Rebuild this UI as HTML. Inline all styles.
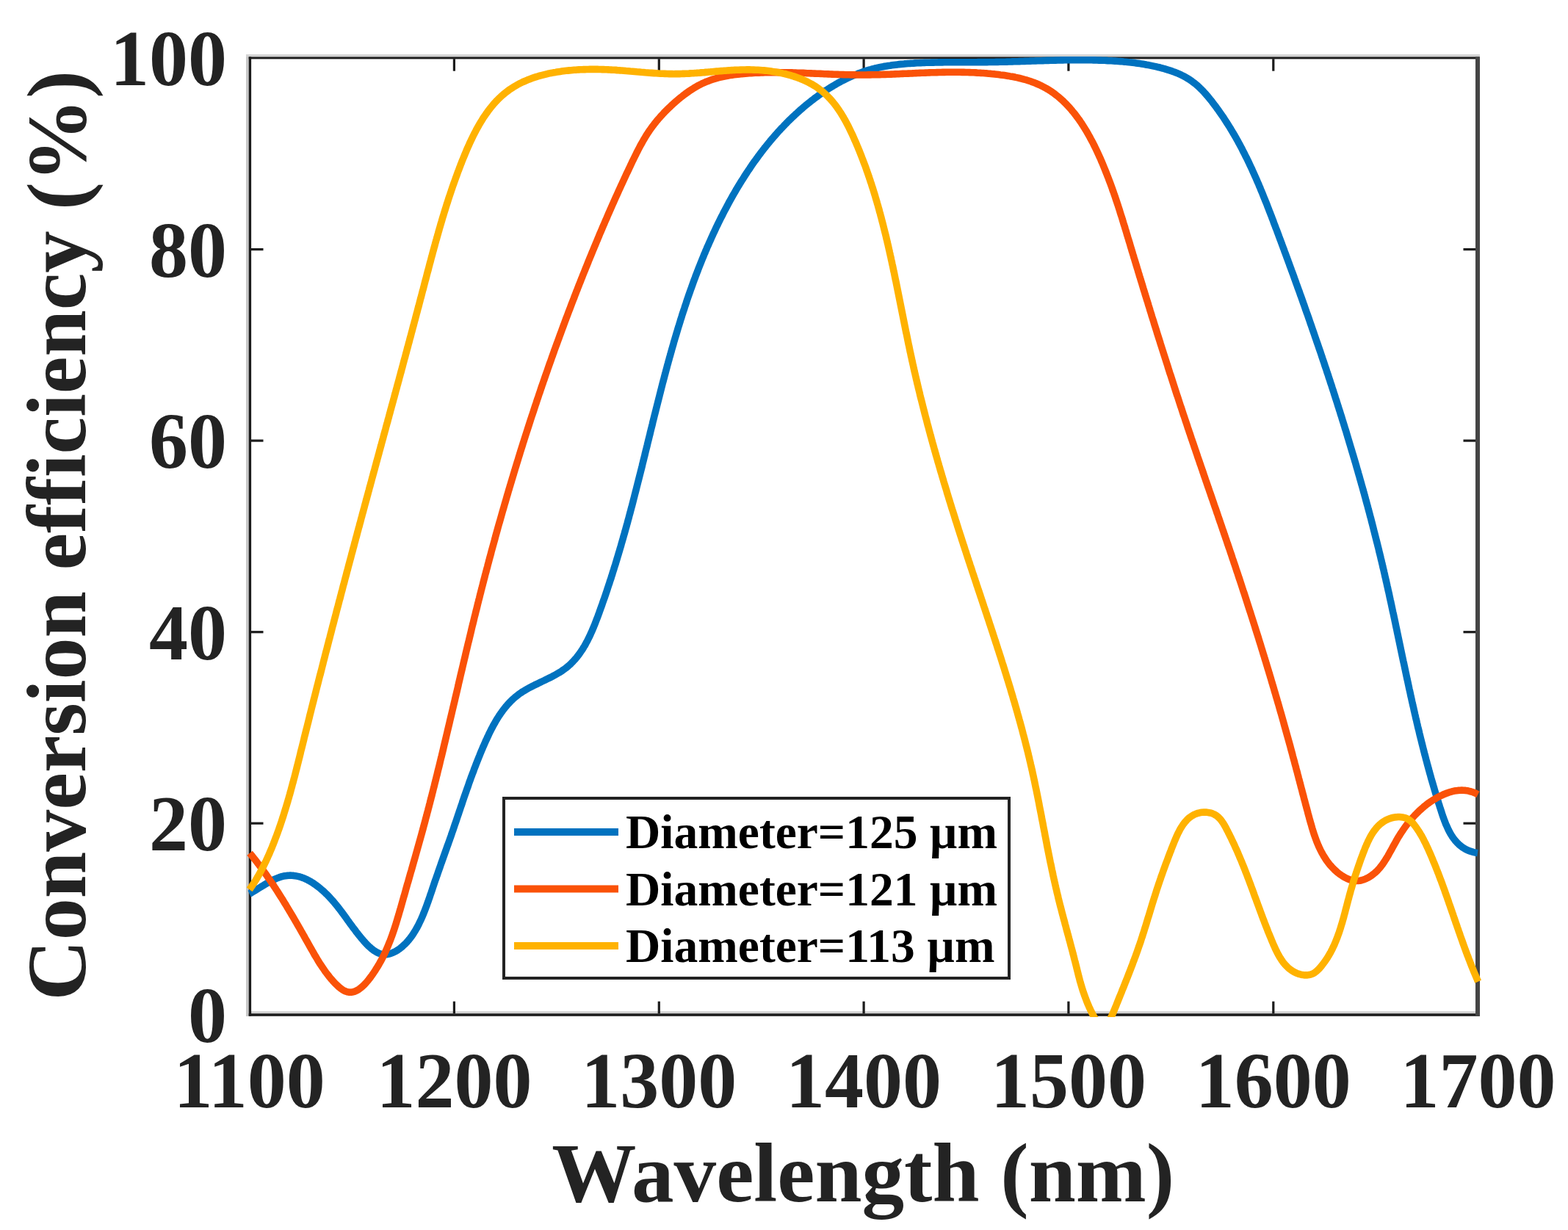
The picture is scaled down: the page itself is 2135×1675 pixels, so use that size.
<!DOCTYPE html><html><head><meta charset="utf-8"><title>Conversion efficiency</title><style>html,body{margin:0;padding:0;background:#fff;}svg{display:block;}text{font-family:"Liberation Serif","Times New Roman",serif;font-weight:bold;}</style></head><body>
<svg xmlns="http://www.w3.org/2000/svg" width="2135" height="1675" viewBox="0 0 2135 1675">
<rect width="2135" height="1675" fill="#fff"/>
<defs><clipPath id="c"><rect x="336" y="75" width="1681" height="1310"/></clipPath></defs>
<rect x="335" y="74" width="3.7" height="1310" fill="#c8c8c8"/>
<rect x="335" y="74" width="1680" height="3.2" fill="#d4d4d4"/>
<rect x="342" y="1377.2" width="1667" height="3" fill="#d0d0d0"/>
<rect x="338.7" y="77.4" width="3.4" height="1306.2" fill="#1c1c1c"/>
<rect x="338.7" y="77.4" width="1676" height="3" fill="#1c1c1c"/>
<rect x="338.7" y="1380.2" width="1676" height="3.6" fill="#1c1c1c"/>
<rect x="2009" y="77.4" width="6" height="1306.4" fill="#454545"/>
<rect x="616.8" y="1363.7" width="3.2" height="16.5" fill="#1c1c1c"/>
<rect x="616.8" y="80.2" width="3.2" height="16.5" fill="#1c1c1c"/>
<rect x="895.7" y="1363.7" width="3.2" height="16.5" fill="#1c1c1c"/>
<rect x="895.7" y="80.2" width="3.2" height="16.5" fill="#1c1c1c"/>
<rect x="1174.5" y="1363.7" width="3.2" height="16.5" fill="#1c1c1c"/>
<rect x="1174.5" y="80.2" width="3.2" height="16.5" fill="#1c1c1c"/>
<rect x="1453.3" y="1363.7" width="3.2" height="16.5" fill="#1c1c1c"/>
<rect x="1453.3" y="80.2" width="3.2" height="16.5" fill="#1c1c1c"/>
<rect x="1732.2" y="1363.7" width="3.2" height="16.5" fill="#1c1c1c"/>
<rect x="1732.2" y="80.2" width="3.2" height="16.5" fill="#1c1c1c"/>
<rect x="342" y="1119.6" width="16.5" height="3.2" fill="#1c1c1c"/>
<rect x="1992.5" y="1119.6" width="16.5" height="3.2" fill="#1c1c1c"/>
<rect x="342" y="859.1" width="16.5" height="3.2" fill="#1c1c1c"/>
<rect x="1992.5" y="859.1" width="16.5" height="3.2" fill="#1c1c1c"/>
<rect x="342" y="598.5" width="16.5" height="3.2" fill="#1c1c1c"/>
<rect x="1992.5" y="598.5" width="16.5" height="3.2" fill="#1c1c1c"/>
<rect x="342" y="338.0" width="16.5" height="3.2" fill="#1c1c1c"/>
<rect x="1992.5" y="338.0" width="16.5" height="3.2" fill="#1c1c1c"/>
<g clip-path="url(#c)" fill="none" stroke-width="9.6" stroke-linejoin="round" stroke-linecap="butt">
<path d="M339.6,1217.1 341.6,1216.1 343.6,1214.9 345.6,1213.7 347.7,1212.5 349.8,1211.2 352.0,1209.8 354.1,1208.5 356.3,1207.1 358.5,1205.8 360.8,1204.4 363.0,1203.1 365.3,1201.8 367.6,1200.5 369.9,1199.3 372.2,1198.2 374.5,1197.1 376.8,1196.1 379.1,1195.2 381.5,1194.4 383.8,1193.7 386.1,1193.1 388.4,1192.7 390.7,1192.4 393.0,1192.2 395.3,1192.1 397.6,1192.2 399.8,1192.4 402.1,1192.7 404.3,1193.1 406.6,1193.6 408.8,1194.2 411.0,1194.9 413.2,1195.7 415.3,1196.6 417.5,1197.6 419.6,1198.7 421.7,1199.8 423.8,1201.0 425.9,1202.3 427.9,1203.7 429.9,1205.1 431.9,1206.6 433.9,1208.1 435.8,1209.7 437.7,1211.3 439.6,1212.9 441.5,1214.6 443.3,1216.4 445.1,1218.1 446.9,1219.9 448.6,1221.7 450.3,1223.6 451.9,1225.4 453.6,1227.3 455.2,1229.1 456.7,1231.0 458.3,1232.9 459.8,1234.8 461.3,1236.7 462.8,1238.6 464.2,1240.5 465.7,1242.5 467.1,1244.4 468.6,1246.4 470.0,1248.3 471.4,1250.3 472.8,1252.3 474.3,1254.3 475.7,1256.3 477.2,1258.3 478.7,1260.3 480.1,1262.3 481.6,1264.3 483.2,1266.3 484.7,1268.4 486.3,1270.4 487.9,1272.5 489.5,1274.5 491.2,1276.6 492.9,1278.6 494.7,1280.7 496.5,1282.7 498.3,1284.7 500.1,1286.6 502.0,1288.5 503.9,1290.2 505.8,1291.9 507.8,1293.4 509.7,1294.8 511.7,1296.1 513.8,1297.2 515.8,1298.1 517.8,1298.9 519.9,1299.4 521.9,1299.7 524.0,1299.8 526.1,1299.7 528.1,1299.4 530.2,1299.0 532.2,1298.4 534.2,1297.6 536.2,1296.7 538.2,1295.7 540.2,1294.6 542.1,1293.4 544.0,1292.1 545.8,1290.6 547.6,1289.2 549.3,1287.6 551.0,1286.0 552.7,1284.4 554.2,1282.7 555.8,1280.9 557.3,1279.1 558.8,1277.2 560.2,1275.3 561.6,1273.4 562.9,1271.4 564.2,1269.3 565.5,1267.2 566.7,1265.1 567.9,1263.0 569.1,1260.8 570.2,1258.6 571.3,1256.3 572.4,1254.0 573.5,1251.7 574.5,1249.4 575.5,1247.1 576.5,1244.7 577.4,1242.3 578.4,1239.9 579.3,1237.5 580.2,1235.1 581.1,1232.7 582.0,1230.2 582.9,1227.8 583.7,1225.4 584.6,1222.9 585.4,1220.5 586.2,1218.0 587.1,1215.6 587.9,1213.2 588.7,1210.7 589.5,1208.3 590.3,1205.9 591.1,1203.5 591.9,1201.2 592.7,1198.8 593.6,1196.5 594.4,1194.1 595.2,1191.8 596.0,1189.5 596.8,1187.2 597.6,1184.9 598.4,1182.6 599.2,1180.3 600.0,1178.0 600.8,1175.7 601.6,1173.5 602.4,1171.2 603.2,1169.0 604.0,1166.7 604.8,1164.5 605.6,1162.2 606.4,1160.0 607.2,1157.7 608.0,1155.5 608.8,1153.2 609.6,1151.0 610.4,1148.8 611.2,1146.5 612.0,1144.3 612.8,1142.0 613.6,1139.8 614.4,1137.5 615.1,1135.3 615.9,1133.0 616.7,1130.8 617.5,1128.5 618.3,1126.2 619.0,1123.9 619.8,1121.6 620.6,1119.4 621.4,1117.1 622.1,1114.8 622.9,1112.5 623.7,1110.2 624.5,1107.9 625.2,1105.6 626.0,1103.3 626.8,1101.0 627.6,1098.6 628.4,1096.3 629.2,1094.0 629.9,1091.7 630.7,1089.4 631.5,1087.0 632.3,1084.7 633.1,1082.4 633.9,1080.1 634.7,1077.8 635.5,1075.4 636.4,1073.1 637.2,1070.8 638.0,1068.5 638.8,1066.1 639.6,1063.8 640.5,1061.5 641.3,1059.1 642.2,1056.8 643.0,1054.5 643.9,1052.2 644.8,1049.9 645.6,1047.5 646.5,1045.2 647.4,1042.9 648.3,1040.6 649.2,1038.3 650.1,1036.0 651.0,1033.7 651.9,1031.4 652.9,1029.1 653.8,1026.8 654.7,1024.5 655.7,1022.2 656.7,1019.9 657.6,1017.6 658.6,1015.4 659.6,1013.1 660.6,1010.8 661.6,1008.5 662.7,1006.3 663.7,1004.0 664.8,1001.8 665.8,999.6 666.9,997.3 668.0,995.1 669.1,992.9 670.3,990.7 671.4,988.6 672.6,986.4 673.8,984.3 675.0,982.2 676.2,980.1 677.5,978.0 678.8,976.0 680.1,973.9 681.5,971.9 682.9,970.0 684.3,968.0 685.7,966.1 687.2,964.2 688.7,962.4 690.2,960.6 691.8,958.8 693.4,957.1 695.1,955.3 696.7,953.7 698.5,952.0 700.2,950.5 702.0,948.9 703.9,947.4 705.8,945.9 707.7,944.5 709.7,943.2 711.7,941.8 713.8,940.6 715.9,939.3 718.0,938.1 720.2,936.9 722.4,935.7 724.6,934.6 726.8,933.5 729.0,932.4 731.3,931.3 733.5,930.2 735.8,929.1 738.1,928.0 740.3,927.0 742.6,925.9 744.8,924.8 747.1,923.7 749.3,922.6 751.5,921.5 753.7,920.3 755.9,919.1 758.0,917.9 760.1,916.7 762.2,915.5 764.2,914.2 766.2,912.8 768.2,911.4 770.1,910.0 771.9,908.6 773.8,907.0 775.5,905.5 777.2,903.9 778.9,902.2 780.5,900.5 782.1,898.8 783.7,897.0 785.2,895.2 786.7,893.3 788.1,891.5 789.5,889.5 790.8,887.6 792.2,885.6 793.5,883.6 794.7,881.5 796.0,879.5 797.2,877.4 798.3,875.2 799.5,873.1 800.6,870.9 801.7,868.7 802.8,866.5 803.8,864.3 804.8,862.1 805.8,859.8 806.8,857.5 807.8,855.2 808.7,852.9 809.7,850.6 810.6,848.3 811.5,845.9 812.4,843.6 813.3,841.3 814.2,838.9 815.0,836.6 815.9,834.2 816.7,831.9 817.6,829.5 818.4,827.2 819.3,824.8 820.1,822.5 820.9,820.1 821.7,817.8 822.6,815.4 823.4,813.1 824.2,810.7 825.0,808.4 825.8,806.0 826.6,803.7 827.3,801.3 828.1,799.0 828.9,796.6 829.7,794.3 830.4,791.9 831.2,789.6 832.0,787.3 832.7,784.9 833.5,782.6 834.2,780.2 834.9,777.9 835.7,775.5 836.4,773.2 837.1,770.9 837.9,768.5 838.6,766.2 839.3,763.8 840.0,761.5 840.7,759.1 841.4,756.8 842.1,754.5 842.8,752.1 843.5,749.8 844.2,747.4 844.9,745.1 845.6,742.8 846.2,740.4 846.9,738.1 847.6,735.7 848.3,733.4 848.9,731.0 849.6,728.7 850.3,726.4 850.9,724.0 851.6,721.7 852.2,719.3 852.9,717.0 853.5,714.6 854.2,712.3 854.8,710.0 855.4,707.6 856.1,705.3 856.7,702.9 857.3,700.6 858.0,698.2 858.6,695.9 859.2,693.5 859.8,691.2 860.5,688.8 861.1,686.5 861.7,684.1 862.3,681.8 862.9,679.4 863.5,677.1 864.1,674.7 864.7,672.4 865.3,670.0 865.9,667.7 866.5,665.3 867.1,662.9 867.7,660.6 868.3,658.2 868.9,655.9 869.5,653.5 870.1,651.1 870.7,648.8 871.3,646.4 871.9,644.1 872.5,641.7 873.1,639.3 873.7,637.0 874.3,634.6 874.8,632.2 875.4,629.9 876.0,627.5 876.6,625.1 877.2,622.7 877.8,620.4 878.3,618.0 878.9,615.6 879.5,613.2 880.1,610.9 880.7,608.5 881.3,606.1 881.8,603.8 882.4,601.4 883.0,599.0 883.6,596.6 884.2,594.2 884.8,591.9 885.3,589.5 885.9,587.1 886.5,584.7 887.1,582.4 887.7,580.0 888.3,577.6 888.8,575.2 889.4,572.8 890.0,570.5 890.6,568.1 891.2,565.7 891.8,563.3 892.4,561.0 893.0,558.6 893.6,556.2 894.2,553.8 894.8,551.4 895.4,549.1 896.0,546.7 896.6,544.3 897.2,541.9 897.8,539.6 898.4,537.2 899.0,534.8 899.6,532.4 900.2,530.1 900.8,527.7 901.4,525.3 902.0,522.9 902.6,520.6 903.3,518.2 903.9,515.8 904.5,513.5 905.1,511.1 905.8,508.7 906.4,506.3 907.0,504.0 907.7,501.6 908.3,499.2 908.9,496.9 909.6,494.5 910.2,492.1 910.9,489.8 911.5,487.4 912.2,485.1 912.9,482.7 913.5,480.3 914.2,478.0 914.8,475.6 915.5,473.3 916.2,470.9 916.9,468.6 917.5,466.2 918.2,463.9 918.9,461.5 919.6,459.2 920.3,456.8 921.0,454.5 921.7,452.1 922.4,449.8 923.1,447.4 923.8,445.1 924.6,442.7 925.3,440.4 926.0,438.1 926.7,435.7 927.5,433.4 928.2,431.1 928.9,428.7 929.7,426.4 930.4,424.1 931.2,421.8 932.0,419.4 932.7,417.1 933.5,414.8 934.3,412.5 935.0,410.2 935.8,407.8 936.6,405.5 937.4,403.2 938.2,400.9 939.0,398.6 939.8,396.3 940.6,394.0 941.5,391.7 942.3,389.4 943.1,387.1 943.9,384.8 944.8,382.5 945.6,380.2 946.5,377.9 947.3,375.6 948.2,373.4 949.1,371.1 950.0,368.8 950.8,366.5 951.7,364.2 952.6,362.0 953.5,359.7 954.4,357.4 955.3,355.2 956.2,352.9 957.2,350.6 958.1,348.4 959.0,346.1 960.0,343.9 960.9,341.6 961.9,339.4 962.8,337.1 963.8,334.9 964.8,332.7 965.8,330.4 966.8,328.2 967.8,326.0 968.8,323.7 969.8,321.5 970.8,319.3 971.8,317.1 972.9,314.9 973.9,312.6 974.9,310.4 976.0,308.2 977.1,306.0 978.1,303.8 979.2,301.6 980.3,299.4 981.4,297.2 982.5,295.0 983.6,292.9 984.7,290.7 985.8,288.5 987.0,286.3 988.1,284.2 989.3,282.0 990.4,279.8 991.6,277.7 992.7,275.5 993.9,273.4 995.1,271.2 996.3,269.1 997.5,266.9 998.7,264.8 1000.0,262.7 1001.2,260.6 1002.4,258.4 1003.7,256.3 1004.9,254.2 1006.2,252.1 1007.5,250.0 1008.8,247.9 1010.1,245.8 1011.4,243.8 1012.7,241.7 1014.0,239.6 1015.3,237.6 1016.7,235.5 1018.0,233.5 1019.4,231.4 1020.8,229.4 1022.1,227.4 1023.5,225.3 1024.9,223.3 1026.3,221.3 1027.7,219.3 1029.2,217.3 1030.6,215.4 1032.0,213.4 1033.5,211.4 1035.0,209.5 1036.4,207.5 1037.9,205.6 1039.4,203.6 1040.9,201.7 1042.5,199.8 1044.0,197.9 1045.5,196.0 1047.1,194.1 1048.6,192.2 1050.2,190.3 1051.8,188.5 1053.4,186.6 1055.0,184.8 1056.6,183.0 1058.2,181.1 1059.8,179.3 1061.5,177.5 1063.1,175.7 1064.8,174.0 1066.5,172.2 1068.2,170.4 1069.9,168.7 1071.6,166.9 1073.3,165.2 1075.0,163.5 1076.8,161.8 1078.5,160.1 1080.3,158.4 1082.1,156.8 1083.9,155.1 1085.7,153.5 1087.5,151.8 1089.3,150.2 1091.1,148.6 1093.0,147.0 1094.8,145.4 1096.7,143.8 1098.6,142.3 1100.5,140.7 1102.4,139.2 1104.3,137.7 1106.3,136.2 1108.2,134.7 1110.2,133.2 1112.1,131.8 1114.1,130.3 1116.1,128.9 1118.1,127.5 1120.1,126.1 1122.2,124.7 1124.2,123.3 1126.3,122.0 1128.3,120.7 1130.4,119.4 1132.5,118.1 1134.6,116.8 1136.7,115.6 1138.8,114.3 1140.9,113.1 1143.1,112.0 1145.2,110.8 1147.4,109.7 1149.6,108.6 1151.8,107.5 1154.0,106.4 1156.2,105.4 1158.4,104.4 1160.6,103.4 1162.8,102.5 1165.1,101.6 1167.4,100.7 1169.6,99.8 1171.9,99.0 1174.2,98.1 1176.5,97.4 1178.8,96.6 1181.1,95.9 1183.5,95.2 1185.8,94.6 1188.1,93.9 1190.5,93.3 1192.9,92.8 1195.2,92.2 1197.6,91.7 1200.0,91.2 1202.4,90.8 1204.8,90.3 1207.2,89.9 1209.6,89.5 1212.1,89.2 1214.5,88.8 1216.9,88.5 1219.4,88.2 1221.8,87.9 1224.2,87.6 1226.7,87.4 1229.1,87.2 1231.6,86.9 1234.0,86.7 1236.5,86.5 1239.0,86.4 1241.4,86.2 1243.9,86.1 1246.3,85.9 1248.8,85.8 1251.3,85.7 1253.7,85.6 1256.2,85.5 1258.6,85.4 1261.1,85.3 1263.6,85.3 1266.0,85.2 1268.5,85.1 1270.9,85.1 1273.4,85.0 1275.8,85.0 1278.3,84.9 1280.7,84.9 1283.1,84.9 1285.6,84.8 1288.0,84.8 1290.5,84.8 1292.9,84.8 1295.3,84.8 1297.8,84.7 1300.2,84.7 1302.7,84.7 1305.1,84.7 1307.5,84.7 1310.0,84.7 1312.4,84.7 1314.8,84.7 1317.3,84.7 1319.7,84.7 1322.1,84.7 1324.6,84.7 1327.0,84.7 1329.4,84.7 1331.9,84.6 1334.3,84.6 1336.7,84.6 1339.2,84.6 1341.6,84.6 1344.1,84.6 1346.5,84.5 1348.9,84.5 1351.4,84.5 1353.8,84.5 1356.3,84.4 1358.7,84.4 1361.2,84.3 1363.6,84.3 1366.1,84.2 1368.5,84.2 1371.0,84.1 1373.4,84.0 1375.9,84.0 1378.3,83.9 1380.8,83.8 1383.2,83.8 1385.7,83.7 1388.2,83.6 1390.6,83.5 1393.1,83.5 1395.5,83.4 1398.0,83.3 1400.5,83.2 1402.9,83.1 1405.4,83.0 1407.8,83.0 1410.3,82.9 1412.8,82.8 1415.2,82.7 1417.7,82.7 1420.2,82.6 1422.6,82.5 1425.1,82.4 1427.5,82.4 1430.0,82.3 1432.5,82.2 1434.9,82.2 1437.4,82.1 1439.9,82.0 1442.3,82.0 1444.8,81.9 1447.2,81.9 1449.7,81.8 1452.2,81.8 1454.6,81.8 1457.1,81.7 1459.5,81.7 1462.0,81.7 1464.4,81.7 1466.9,81.7 1469.3,81.7 1471.8,81.7 1474.2,81.7 1476.7,81.7 1479.1,81.7 1481.6,81.7 1484.0,81.8 1486.5,81.8 1488.9,81.9 1491.4,81.9 1493.8,82.0 1496.3,82.1 1498.7,82.1 1501.1,82.2 1503.6,82.3 1506.0,82.4 1508.4,82.6 1510.8,82.7 1513.3,82.8 1515.7,83.0 1518.1,83.1 1520.5,83.3 1523.0,83.5 1525.4,83.6 1527.8,83.8 1530.2,84.1 1532.6,84.3 1535.0,84.5 1537.4,84.8 1539.8,85.0 1542.2,85.3 1544.6,85.6 1547.0,85.9 1549.4,86.2 1551.8,86.6 1554.2,86.9 1556.6,87.3 1559.0,87.7 1561.4,88.2 1563.8,88.6 1566.2,89.1 1568.6,89.6 1571.0,90.1 1573.4,90.6 1575.8,91.2 1578.2,91.7 1580.6,92.4 1583.0,93.0 1585.4,93.7 1587.7,94.4 1590.1,95.1 1592.5,95.8 1594.8,96.6 1597.2,97.5 1599.5,98.3 1601.8,99.2 1604.1,100.2 1606.4,101.2 1608.6,102.2 1610.8,103.3 1613.0,104.4 1615.1,105.6 1617.2,106.9 1619.3,108.2 1621.3,109.5 1623.3,110.9 1625.2,112.4 1627.2,113.9 1629.0,115.4 1630.9,117.0 1632.7,118.7 1634.4,120.4 1636.2,122.1 1637.9,123.8 1639.5,125.6 1641.2,127.5 1642.8,129.3 1644.4,131.2 1646.0,133.1 1647.5,135.0 1649.1,136.9 1650.6,138.8 1652.1,140.8 1653.6,142.8 1655.0,144.7 1656.5,146.7 1657.9,148.7 1659.4,150.7 1660.8,152.7 1662.2,154.7 1663.6,156.7 1665.0,158.7 1666.3,160.7 1667.7,162.8 1669.0,164.8 1670.3,166.9 1671.6,168.9 1672.9,171.0 1674.2,173.0 1675.5,175.1 1676.7,177.2 1678.0,179.3 1679.2,181.4 1680.5,183.5 1681.7,185.6 1682.9,187.7 1684.1,189.8 1685.3,191.9 1686.4,194.1 1687.6,196.2 1688.7,198.3 1689.9,200.5 1691.0,202.6 1692.1,204.8 1693.2,207.0 1694.3,209.1 1695.4,211.3 1696.5,213.5 1697.6,215.6 1698.7,217.8 1699.7,220.0 1700.8,222.2 1701.8,224.4 1702.8,226.6 1703.9,228.8 1704.9,231.0 1705.9,233.3 1706.9,235.5 1707.9,237.7 1708.9,239.9 1709.9,242.2 1710.9,244.4 1711.8,246.6 1712.8,248.9 1713.8,251.1 1714.7,253.4 1715.7,255.6 1716.6,257.9 1717.5,260.1 1718.5,262.4 1719.4,264.6 1720.3,266.9 1721.2,269.2 1722.1,271.4 1723.0,273.7 1724.0,276.0 1724.9,278.2 1725.7,280.5 1726.6,282.8 1727.5,285.1 1728.4,287.4 1729.3,289.6 1730.2,291.9 1731.1,294.2 1731.9,296.5 1732.8,298.8 1733.7,301.1 1734.5,303.4 1735.4,305.7 1736.3,308.0 1737.1,310.3 1738.0,312.5 1738.9,314.8 1739.7,317.1 1740.6,319.4 1741.4,321.7 1742.3,324.0 1743.1,326.3 1744.0,328.6 1744.9,330.9 1745.7,333.2 1746.6,335.5 1747.4,337.8 1748.3,340.1 1749.1,342.4 1750.0,344.7 1750.8,347.0 1751.7,349.3 1752.5,351.6 1753.4,353.9 1754.2,356.2 1755.1,358.5 1755.9,360.8 1756.7,363.1 1757.6,365.4 1758.4,367.7 1759.3,370.0 1760.1,372.3 1761.0,374.6 1761.8,376.9 1762.6,379.2 1763.5,381.6 1764.3,383.9 1765.1,386.2 1766.0,388.5 1766.8,390.8 1767.6,393.1 1768.5,395.4 1769.3,397.7 1770.1,400.0 1770.9,402.3 1771.8,404.6 1772.6,406.9 1773.4,409.2 1774.2,411.6 1775.1,413.9 1775.9,416.2 1776.7,418.5 1777.5,420.8 1778.3,423.1 1779.1,425.4 1780.0,427.7 1780.8,430.1 1781.6,432.4 1782.4,434.7 1783.2,437.0 1784.0,439.3 1784.8,441.6 1785.6,443.9 1786.4,446.3 1787.2,448.6 1788.0,450.9 1788.8,453.2 1789.6,455.5 1790.4,457.8 1791.2,460.2 1792.0,462.5 1792.8,464.8 1793.6,467.1 1794.4,469.4 1795.2,471.8 1796.0,474.1 1796.8,476.4 1797.6,478.7 1798.4,481.0 1799.2,483.4 1799.9,485.7 1800.7,488.0 1801.5,490.3 1802.3,492.6 1803.1,495.0 1803.8,497.3 1804.6,499.6 1805.4,501.9 1806.2,504.3 1806.9,506.6 1807.7,508.9 1808.5,511.2 1809.2,513.6 1810.0,515.9 1810.8,518.2 1811.5,520.6 1812.3,522.9 1813.1,525.2 1813.8,527.5 1814.6,529.9 1815.3,532.2 1816.1,534.5 1816.8,536.9 1817.6,539.2 1818.3,541.5 1819.1,543.9 1819.8,546.2 1820.6,548.5 1821.3,550.9 1822.0,553.2 1822.8,555.5 1823.5,557.9 1824.3,560.2 1825.0,562.5 1825.7,564.9 1826.5,567.2 1827.2,569.5 1827.9,571.9 1828.6,574.2 1829.4,576.5 1830.1,578.9 1830.8,581.2 1831.5,583.6 1832.3,585.9 1833.0,588.2 1833.7,590.6 1834.4,592.9 1835.1,595.3 1835.8,597.6 1836.5,599.9 1837.2,602.3 1837.9,604.6 1838.6,607.0 1839.3,609.3 1840.0,611.7 1840.7,614.0 1841.4,616.3 1842.1,618.7 1842.8,621.0 1843.5,623.4 1844.2,625.7 1844.9,628.1 1845.6,630.4 1846.3,632.8 1846.9,635.1 1847.6,637.5 1848.3,639.8 1849.0,642.2 1849.6,644.5 1850.3,646.9 1851.0,649.2 1851.6,651.6 1852.3,653.9 1853.0,656.3 1853.6,658.6 1854.3,661.0 1855.0,663.3 1855.6,665.7 1856.3,668.0 1856.9,670.4 1857.6,672.7 1858.2,675.1 1858.9,677.4 1859.5,679.8 1860.1,682.2 1860.8,684.5 1861.4,686.9 1862.1,689.2 1862.7,691.6 1863.3,693.9 1864.0,696.3 1864.6,698.7 1865.2,701.0 1865.8,703.4 1866.5,705.7 1867.1,708.1 1867.7,710.5 1868.3,712.8 1868.9,715.2 1869.5,717.5 1870.1,719.9 1870.7,722.3 1871.3,724.6 1871.9,727.0 1872.5,729.4 1873.1,731.7 1873.7,734.1 1874.3,736.5 1874.9,738.8 1875.5,741.2 1876.1,743.6 1876.7,745.9 1877.3,748.3 1877.8,750.7 1878.4,753.0 1879.0,755.4 1879.6,757.8 1880.1,760.1 1880.7,762.5 1881.3,764.9 1881.8,767.2 1882.4,769.6 1882.9,772.0 1883.5,774.4 1884.1,776.7 1884.6,779.1 1885.2,781.5 1885.7,783.9 1886.2,786.2 1886.8,788.6 1887.3,791.0 1887.9,793.4 1888.4,795.7 1888.9,798.1 1889.5,800.5 1890.0,802.9 1890.5,805.2 1891.1,807.6 1891.6,810.0 1892.1,812.4 1892.6,814.8 1893.1,817.1 1893.7,819.5 1894.2,821.9 1894.7,824.3 1895.2,826.7 1895.7,829.0 1896.2,831.4 1896.7,833.8 1897.3,836.2 1897.8,838.6 1898.3,840.9 1898.8,843.3 1899.3,845.7 1899.8,848.1 1900.3,850.5 1900.8,852.9 1901.3,855.3 1901.8,857.6 1902.3,860.0 1902.8,862.4 1903.3,864.8 1903.8,867.2 1904.3,869.6 1904.8,872.0 1905.3,874.3 1905.8,876.7 1906.3,879.1 1906.8,881.5 1907.3,883.9 1907.8,886.3 1908.3,888.7 1908.8,891.1 1909.3,893.4 1909.8,895.8 1910.3,898.2 1910.8,900.6 1911.4,903.0 1911.9,905.4 1912.4,907.8 1912.9,910.2 1913.4,912.6 1913.9,914.9 1914.4,917.3 1914.9,919.7 1915.4,922.1 1915.9,924.5 1916.5,926.9 1917.0,929.3 1917.5,931.7 1918.0,934.1 1918.5,936.5 1919.0,938.8 1919.6,941.2 1920.1,943.6 1920.6,946.0 1921.1,948.4 1921.7,950.8 1922.2,953.2 1922.7,955.6 1923.3,958.0 1923.8,960.4 1924.4,962.8 1924.9,965.1 1925.4,967.5 1926.0,969.9 1926.5,972.3 1927.1,974.7 1927.6,977.1 1928.2,979.5 1928.8,981.9 1929.3,984.3 1929.9,986.7 1930.4,989.1 1931.0,991.5 1931.6,993.8 1932.2,996.2 1932.7,998.6 1933.3,1001.0 1933.9,1003.4 1934.5,1005.8 1935.1,1008.2 1935.7,1010.6 1936.3,1013.0 1936.9,1015.4 1937.5,1017.8 1938.1,1020.1 1938.7,1022.5 1939.3,1024.9 1939.9,1027.3 1940.6,1029.7 1941.2,1032.1 1941.8,1034.5 1942.5,1036.9 1943.1,1039.3 1943.7,1041.7 1944.4,1044.0 1945.0,1046.4 1945.7,1048.8 1946.3,1051.2 1947.0,1053.6 1947.7,1056.0 1948.3,1058.4 1949.0,1060.8 1949.7,1063.2 1950.4,1065.5 1951.1,1067.9 1951.8,1070.3 1952.5,1072.7 1953.2,1075.1 1953.9,1077.5 1954.6,1079.9 1955.3,1082.2 1956.1,1084.6 1956.8,1087.0 1957.5,1089.4 1958.3,1091.8 1959.0,1094.2 1959.8,1096.6 1960.5,1098.9 1961.3,1101.3 1962.1,1103.7 1962.8,1106.1 1963.6,1108.5 1964.4,1110.8 1965.2,1113.2 1966.1,1115.5 1966.9,1117.8 1967.8,1120.1 1968.7,1122.4 1969.7,1124.6 1970.7,1126.8 1971.7,1129.0 1972.7,1131.1 1973.8,1133.2 1975.0,1135.3 1976.2,1137.3 1977.4,1139.2 1978.7,1141.1 1980.1,1142.9 1981.5,1144.7 1983.0,1146.4 1984.5,1148.1 1986.1,1149.6 1987.8,1151.1 1989.6,1152.5 1991.4,1153.9 1993.4,1155.1 1995.4,1156.3 1997.5,1157.3 1999.6,1158.3 2001.9,1159.2 2004.3,1159.9 2006.8,1160.6 2009.3,1161.2 2012.0,1161.6" stroke="#0072BF"/>
<path d="M340.1,1161.8 341.7,1163.8 343.3,1165.7 344.9,1167.7 346.5,1169.8 348.1,1171.8 349.7,1173.8 351.2,1175.8 352.8,1177.9 354.3,1180.0 355.9,1182.0 357.4,1184.1 358.9,1186.2 360.4,1188.3 361.9,1190.4 363.4,1192.5 364.9,1194.7 366.4,1196.8 367.8,1198.9 369.3,1201.1 370.7,1203.3 372.2,1205.4 373.6,1207.6 375.1,1209.8 376.5,1212.0 377.9,1214.2 379.3,1216.4 380.7,1218.6 382.1,1220.8 383.5,1223.0 384.9,1225.2 386.2,1227.4 387.6,1229.7 389.0,1231.9 390.3,1234.1 391.7,1236.4 393.0,1238.6 394.4,1240.9 395.7,1243.1 397.0,1245.4 398.4,1247.6 399.7,1249.9 401.0,1252.1 402.3,1254.4 403.6,1256.6 404.9,1258.9 406.2,1261.2 407.5,1263.4 408.8,1265.7 410.1,1268.0 411.4,1270.2 412.7,1272.5 414.0,1274.7 415.2,1277.0 416.5,1279.3 417.8,1281.5 419.1,1283.8 420.3,1286.0 421.6,1288.3 422.8,1290.5 424.1,1292.7 425.4,1295.0 426.7,1297.2 427.9,1299.5 429.2,1301.7 430.6,1303.9 431.9,1306.1 433.2,1308.4 434.6,1310.6 436.0,1312.8 437.5,1315.0 439.0,1317.2 440.5,1319.4 442.0,1321.7 443.6,1323.9 445.3,1326.1 447.0,1328.3 448.7,1330.5 450.5,1332.7 452.4,1334.8 454.3,1337.0 456.3,1339.1 458.3,1341.1 460.3,1343.0 462.4,1344.8 464.4,1346.4 466.5,1347.9 468.6,1349.1 470.7,1350.0 472.8,1350.7 474.9,1351.1 477.0,1351.3 479.0,1351.1 481.1,1350.7 483.1,1350.1 485.1,1349.2 487.0,1348.2 489.0,1346.9 490.9,1345.5 492.8,1343.9 494.6,1342.2 496.5,1340.4 498.3,1338.5 500.0,1336.5 501.7,1334.4 503.4,1332.2 505.1,1330.0 506.7,1327.8 508.2,1325.6 509.7,1323.4 511.2,1321.1 512.6,1318.8 514.0,1316.6 515.4,1314.3 516.7,1312.0 518.0,1309.6 519.3,1307.3 520.5,1305.0 521.7,1302.6 522.9,1300.3 524.0,1297.9 525.1,1295.5 526.2,1293.1 527.2,1290.7 528.2,1288.3 529.2,1285.9 530.2,1283.4 531.2,1281.0 532.1,1278.6 533.0,1276.1 533.9,1273.7 534.8,1271.2 535.6,1268.7 536.5,1266.3 537.3,1263.8 538.1,1261.3 538.9,1258.8 539.7,1256.3 540.4,1253.8 541.2,1251.3 541.9,1248.8 542.7,1246.3 543.4,1243.8 544.1,1241.3 544.9,1238.8 545.6,1236.3 546.3,1233.7 547.0,1231.2 547.7,1228.7 548.4,1226.2 549.1,1223.7 549.8,1221.2 550.6,1218.7 551.3,1216.2 552.0,1213.7 552.7,1211.1 553.4,1208.6 554.1,1206.1 554.8,1203.6 555.6,1201.1 556.3,1198.6 557.0,1196.1 557.7,1193.6 558.4,1191.1 559.1,1188.6 559.9,1186.1 560.6,1183.6 561.3,1181.1 562.0,1178.6 562.7,1176.1 563.4,1173.6 564.2,1171.0 564.9,1168.5 565.6,1166.0 566.3,1163.5 567.0,1161.0 567.7,1158.5 568.4,1156.0 569.1,1153.5 569.8,1151.0 570.5,1148.5 571.2,1146.0 571.9,1143.5 572.6,1141.0 573.3,1138.5 574.0,1135.9 574.7,1133.4 575.4,1130.9 576.1,1128.4 576.7,1125.9 577.4,1123.4 578.1,1120.9 578.8,1118.3 579.4,1115.8 580.1,1113.3 580.8,1110.8 581.4,1108.3 582.1,1105.8 582.8,1103.2 583.4,1100.7 584.1,1098.2 584.7,1095.7 585.4,1093.2 586.0,1090.6 586.7,1088.1 587.3,1085.6 588.0,1083.1 588.6,1080.5 589.3,1078.0 589.9,1075.5 590.5,1073.0 591.2,1070.4 591.8,1067.9 592.4,1065.4 593.1,1062.8 593.7,1060.3 594.3,1057.8 595.0,1055.3 595.6,1052.7 596.2,1050.2 596.8,1047.7 597.5,1045.1 598.1,1042.6 598.7,1040.1 599.3,1037.5 599.9,1035.0 600.5,1032.5 601.2,1029.9 601.8,1027.4 602.4,1024.9 603.0,1022.3 603.6,1019.8 604.2,1017.2 604.8,1014.7 605.4,1012.2 606.0,1009.6 606.6,1007.1 607.2,1004.6 607.8,1002.0 608.4,999.5 609.0,997.0 609.6,994.4 610.2,991.9 610.8,989.3 611.4,986.8 612.0,984.3 612.6,981.7 613.2,979.2 613.8,976.6 614.4,974.1 615.0,971.6 615.6,969.0 616.2,966.5 616.8,963.9 617.4,961.4 618.0,958.9 618.6,956.3 619.2,953.8 619.8,951.2 620.4,948.7 621.0,946.1 621.6,943.6 622.2,941.1 622.8,938.5 623.4,936.0 624.0,933.4 624.5,930.9 625.1,928.4 625.7,925.8 626.3,923.3 626.9,920.7 627.5,918.2 628.1,915.7 628.7,913.1 629.3,910.6 629.9,908.0 630.5,905.5 631.1,902.9 631.7,900.4 632.3,897.9 632.9,895.3 633.5,892.8 634.1,890.2 634.7,887.7 635.3,885.2 635.9,882.6 636.5,880.1 637.1,877.5 637.7,875.0 638.4,872.5 639.0,869.9 639.6,867.4 640.2,864.9 640.8,862.3 641.4,859.8 642.0,857.2 642.6,854.7 643.2,852.2 643.9,849.6 644.5,847.1 645.1,844.6 645.7,842.0 646.3,839.5 647.0,837.0 647.6,834.4 648.2,831.9 648.9,829.4 649.5,826.8 650.1,824.3 650.7,821.8 651.4,819.2 652.0,816.7 652.7,814.2 653.3,811.6 653.9,809.1 654.6,806.6 655.2,804.0 655.9,801.5 656.5,799.0 657.2,796.5 657.8,793.9 658.5,791.4 659.1,788.9 659.8,786.4 660.4,783.8 661.1,781.3 661.8,778.8 662.4,776.3 663.1,773.7 663.8,771.2 664.4,768.7 665.1,766.2 665.8,763.6 666.4,761.1 667.1,758.6 667.8,756.1 668.5,753.6 669.1,751.0 669.8,748.5 670.5,746.0 671.2,743.5 671.9,741.0 672.6,738.5 673.3,735.9 674.0,733.4 674.6,730.9 675.3,728.4 676.0,725.9 676.7,723.4 677.4,720.9 678.1,718.3 678.8,715.8 679.5,713.3 680.3,710.8 681.0,708.3 681.7,705.8 682.4,703.3 683.1,700.8 683.8,698.3 684.5,695.8 685.3,693.2 686.0,690.7 686.7,688.2 687.4,685.7 688.2,683.2 688.9,680.7 689.6,678.2 690.3,675.7 691.1,673.2 691.8,670.7 692.5,668.2 693.3,665.7 694.0,663.2 694.8,660.7 695.5,658.2 696.3,655.7 697.0,653.2 697.8,650.7 698.5,648.2 699.3,645.7 700.0,643.2 700.8,640.7 701.5,638.2 702.3,635.7 703.1,633.2 703.8,630.7 704.6,628.2 705.4,625.8 706.1,623.3 706.9,620.8 707.7,618.3 708.4,615.8 709.2,613.3 710.0,610.8 710.8,608.3 711.6,605.8 712.3,603.3 713.1,600.9 713.9,598.4 714.7,595.9 715.5,593.4 716.3,590.9 717.1,588.4 717.9,586.0 718.7,583.5 719.5,581.0 720.3,578.5 721.1,576.0 721.9,573.5 722.7,571.1 723.5,568.6 724.3,566.1 725.2,563.6 726.0,561.2 726.8,558.7 727.6,556.2 728.4,553.7 729.2,551.3 730.1,548.8 730.9,546.3 731.7,543.8 732.6,541.4 733.4,538.9 734.2,536.4 735.1,534.0 735.9,531.5 736.7,529.0 737.6,526.5 738.4,524.1 739.3,521.6 740.1,519.1 741.0,516.7 741.8,514.2 742.7,511.8 743.5,509.3 744.4,506.8 745.3,504.4 746.1,501.9 747.0,499.4 747.8,497.0 748.7,494.5 749.6,492.1 750.5,489.6 751.3,487.1 752.2,484.7 753.1,482.2 754.0,479.8 754.8,477.3 755.7,474.9 756.6,472.4 757.5,470.0 758.4,467.5 759.3,465.1 760.2,462.6 761.1,460.2 762.0,457.7 762.9,455.3 763.8,452.8 764.7,450.4 765.6,447.9 766.5,445.5 767.4,443.0 768.3,440.6 769.2,438.1 770.1,435.7 771.0,433.3 772.0,430.8 772.9,428.4 773.8,425.9 774.7,423.5 775.7,421.1 776.6,418.6 777.5,416.2 778.4,413.8 779.4,411.3 780.3,408.9 781.3,406.5 782.2,404.0 783.1,401.6 784.1,399.2 785.0,396.7 786.0,394.3 786.9,391.9 787.9,389.4 788.8,387.0 789.8,384.6 790.8,382.2 791.7,379.7 792.7,377.3 793.6,374.9 794.6,372.5 795.6,370.0 796.6,367.6 797.5,365.2 798.5,362.8 799.5,360.4 800.5,357.9 801.4,355.5 802.4,353.1 803.4,350.7 804.4,348.3 805.4,345.9 806.4,343.4 807.4,341.0 808.4,338.6 809.4,336.2 810.4,333.8 811.4,331.4 812.4,329.0 813.4,326.6 814.4,324.2 815.4,321.8 816.4,319.3 817.4,316.9 818.5,314.5 819.5,312.1 820.5,309.7 821.5,307.3 822.6,304.9 823.6,302.5 824.6,300.1 825.7,297.8 826.7,295.4 827.7,293.0 828.8,290.6 829.8,288.2 830.9,285.8 831.9,283.4 833.0,281.0 834.0,278.6 835.1,276.3 836.1,273.9 837.2,271.5 838.3,269.1 839.3,266.8 840.4,264.4 841.5,262.0 842.6,259.6 843.6,257.3 844.7,254.9 845.8,252.5 846.9,250.2 848.0,247.8 849.1,245.5 850.2,243.1 851.2,240.8 852.3,238.4 853.4,236.0 854.6,233.7 855.7,231.4 856.8,229.0 857.9,226.7 859.0,224.3 860.1,222.0 861.2,219.6 862.4,217.3 863.5,215.0 864.6,212.7 865.8,210.3 866.9,208.0 868.1,205.7 869.3,203.4 870.5,201.1 871.7,198.8 872.9,196.6 874.2,194.3 875.5,192.0 876.8,189.8 878.1,187.6 879.4,185.4 880.8,183.2 882.2,181.0 883.7,178.8 885.1,176.7 886.7,174.5 888.2,172.4 889.8,170.3 891.4,168.2 893.0,166.2 894.7,164.1 896.4,162.1 898.2,160.1 899.9,158.1 901.7,156.2 903.5,154.3 905.3,152.3 907.2,150.4 909.1,148.6 911.0,146.7 912.9,144.9 914.8,143.1 916.8,141.3 918.7,139.6 920.7,137.8 922.7,136.1 924.7,134.4 926.7,132.8 928.8,131.2 930.8,129.6 932.9,128.0 935.0,126.5 937.1,125.0 939.2,123.5 941.4,122.1 943.6,120.7 945.7,119.4 947.9,118.1 950.2,116.8 952.4,115.6 954.7,114.5 957.0,113.3 959.3,112.3 961.7,111.3 964.1,110.4 966.5,109.5 968.9,108.6 971.3,107.8 973.8,107.1 976.3,106.4 978.8,105.7 981.3,105.1 983.9,104.5 986.4,104.0 989.0,103.5 991.6,103.0 994.1,102.6 996.7,102.2 999.4,101.8 1002.0,101.5 1004.6,101.2 1007.2,100.9 1009.8,100.6 1012.5,100.4 1015.1,100.2 1017.7,100.0 1020.4,99.8 1023.0,99.6 1025.6,99.4 1028.3,99.3 1030.9,99.2 1033.5,99.1 1036.1,99.0 1038.8,98.9 1041.4,98.8 1044.0,98.7 1046.6,98.7 1049.3,98.7 1051.9,98.6 1054.5,98.6 1057.1,98.6 1059.7,98.6 1062.4,98.7 1065.0,98.7 1067.6,98.7 1070.2,98.8 1072.8,98.8 1075.5,98.9 1078.1,98.9 1080.7,99.0 1083.3,99.1 1085.9,99.2 1088.5,99.3 1091.2,99.4 1093.8,99.4 1096.4,99.5 1099.0,99.7 1101.6,99.8 1104.2,99.9 1106.8,100.0 1109.4,100.1 1112.0,100.2 1114.7,100.3 1117.3,100.4 1119.9,100.5 1122.5,100.7 1125.1,100.8 1127.7,100.9 1130.3,101.0 1132.9,101.1 1135.5,101.2 1138.1,101.3 1140.7,101.4 1143.3,101.5 1145.9,101.5 1148.5,101.6 1151.1,101.7 1153.7,101.8 1156.3,101.8 1158.9,101.9 1161.5,101.9 1164.1,101.9 1166.7,102.0 1169.3,102.0 1171.9,102.0 1174.5,102.0 1177.1,102.0 1179.7,102.0 1182.3,101.9 1184.9,101.9 1187.5,101.8 1190.1,101.8 1192.7,101.7 1195.3,101.7 1197.9,101.6 1200.5,101.5 1203.1,101.4 1205.7,101.4 1208.3,101.3 1210.9,101.2 1213.5,101.1 1216.1,101.0 1218.7,100.9 1221.3,100.8 1223.8,100.7 1226.4,100.5 1229.0,100.4 1231.6,100.3 1234.2,100.2 1236.8,100.1 1239.4,100.0 1242.0,99.9 1244.6,99.7 1247.2,99.6 1249.8,99.5 1252.4,99.4 1255.0,99.3 1257.6,99.2 1260.2,99.1 1262.8,99.0 1265.4,98.9 1268.0,98.8 1270.6,98.8 1273.2,98.7 1275.8,98.6 1278.4,98.5 1281.0,98.5 1283.6,98.4 1286.2,98.4 1288.8,98.3 1291.5,98.3 1294.1,98.3 1296.7,98.3 1299.3,98.3 1301.9,98.3 1304.5,98.3 1307.1,98.3 1309.7,98.4 1312.3,98.4 1315.0,98.5 1317.6,98.5 1320.2,98.6 1322.8,98.7 1325.4,98.8 1328.1,98.9 1330.7,99.1 1333.3,99.2 1335.9,99.4 1338.6,99.5 1341.2,99.7 1343.8,99.9 1346.4,100.2 1349.1,100.4 1351.7,100.7 1354.3,100.9 1357.0,101.2 1359.6,101.5 1362.3,101.9 1364.9,102.2 1367.5,102.6 1370.1,103.0 1372.8,103.4 1375.4,103.9 1378.0,104.3 1380.6,104.8 1383.2,105.4 1385.7,105.9 1388.3,106.5 1390.8,107.1 1393.4,107.8 1395.9,108.5 1398.4,109.2 1400.8,110.0 1403.3,110.8 1405.7,111.7 1408.1,112.6 1410.5,113.5 1412.8,114.5 1415.2,115.5 1417.5,116.6 1419.7,117.7 1422.0,118.9 1424.2,120.1 1426.3,121.4 1428.5,122.7 1430.6,124.1 1432.7,125.5 1434.7,126.9 1436.7,128.4 1438.7,130.0 1440.7,131.5 1442.6,133.2 1444.5,134.8 1446.4,136.5 1448.3,138.3 1450.1,140.1 1451.9,141.9 1453.6,143.7 1455.4,145.6 1457.1,147.5 1458.8,149.5 1460.4,151.5 1462.1,153.5 1463.7,155.5 1465.3,157.6 1466.8,159.7 1468.4,161.8 1469.9,163.9 1471.4,166.1 1472.9,168.3 1474.3,170.5 1475.7,172.8 1477.1,175.0 1478.5,177.3 1479.9,179.6 1481.2,181.9 1482.6,184.3 1483.9,186.6 1485.1,189.0 1486.4,191.3 1487.7,193.7 1488.9,196.1 1490.1,198.5 1491.3,201.0 1492.5,203.4 1493.6,205.8 1494.8,208.3 1495.9,210.7 1497.0,213.2 1498.1,215.6 1499.2,218.1 1500.2,220.6 1501.3,223.0 1502.3,225.5 1503.3,228.0 1504.3,230.4 1505.3,232.9 1506.3,235.4 1507.3,237.8 1508.2,240.3 1509.2,242.8 1510.1,245.2 1511.0,247.7 1512.0,250.1 1512.9,252.6 1513.8,255.1 1514.6,257.5 1515.5,260.0 1516.4,262.4 1517.2,264.9 1518.1,267.3 1518.9,269.8 1519.7,272.3 1520.6,274.7 1521.4,277.2 1522.2,279.6 1523.0,282.1 1523.8,284.5 1524.6,287.0 1525.3,289.5 1526.1,291.9 1526.9,294.4 1527.7,296.8 1528.4,299.3 1529.2,301.8 1529.9,304.2 1530.7,306.7 1531.5,309.1 1532.2,311.6 1533.0,314.1 1533.7,316.5 1534.4,319.0 1535.2,321.5 1535.9,323.9 1536.7,326.4 1537.4,328.8 1538.2,331.3 1538.9,333.8 1539.6,336.3 1540.4,338.7 1541.1,341.2 1541.9,343.7 1542.6,346.1 1543.4,348.6 1544.1,351.1 1544.9,353.6 1545.6,356.0 1546.4,358.5 1547.1,361.0 1547.9,363.5 1548.6,365.9 1549.4,368.4 1550.1,370.9 1550.9,373.4 1551.6,375.9 1552.4,378.3 1553.1,380.8 1553.9,383.3 1554.7,385.8 1555.4,388.3 1556.2,390.8 1556.9,393.2 1557.7,395.7 1558.5,398.2 1559.2,400.7 1560.0,403.2 1560.8,405.7 1561.5,408.2 1562.3,410.6 1563.1,413.1 1563.8,415.6 1564.6,418.1 1565.4,420.6 1566.1,423.1 1566.9,425.6 1567.7,428.1 1568.4,430.6 1569.2,433.1 1570.0,435.5 1570.8,438.0 1571.5,440.5 1572.3,443.0 1573.1,445.5 1573.9,448.0 1574.7,450.5 1575.4,453.0 1576.2,455.5 1577.0,458.0 1577.8,460.5 1578.6,463.0 1579.4,465.4 1580.1,467.9 1580.9,470.4 1581.7,472.9 1582.5,475.4 1583.3,477.9 1584.1,480.4 1584.9,482.9 1585.7,485.4 1586.5,487.9 1587.3,490.4 1588.1,492.9 1588.9,495.4 1589.7,497.8 1590.4,500.3 1591.2,502.8 1592.0,505.3 1592.8,507.8 1593.7,510.3 1594.5,512.8 1595.3,515.3 1596.1,517.8 1596.9,520.3 1597.7,522.7 1598.5,525.2 1599.3,527.7 1600.1,530.2 1600.9,532.7 1601.7,535.2 1602.5,537.7 1603.4,540.1 1604.2,542.6 1605.0,545.1 1605.8,547.6 1606.6,550.1 1607.4,552.6 1608.3,555.0 1609.1,557.5 1609.9,560.0 1610.7,562.5 1611.5,565.0 1612.4,567.4 1613.2,569.9 1614.0,572.4 1614.9,574.9 1615.7,577.3 1616.5,579.8 1617.3,582.3 1618.2,584.8 1619.0,587.2 1619.8,589.7 1620.7,592.2 1621.5,594.7 1622.3,597.1 1623.2,599.6 1624.0,602.1 1624.9,604.5 1625.7,607.0 1626.5,609.5 1627.4,611.9 1628.2,614.4 1629.1,616.9 1629.9,619.3 1630.7,621.8 1631.6,624.3 1632.4,626.7 1633.3,629.2 1634.1,631.7 1635.0,634.1 1635.8,636.6 1636.7,639.1 1637.5,641.5 1638.4,644.0 1639.2,646.5 1640.0,648.9 1640.9,651.4 1641.7,653.8 1642.6,656.3 1643.4,658.8 1644.3,661.2 1645.1,663.7 1646.0,666.2 1646.8,668.6 1647.7,671.1 1648.5,673.5 1649.4,676.0 1650.2,678.5 1651.1,680.9 1651.9,683.4 1652.8,685.9 1653.6,688.3 1654.5,690.8 1655.3,693.2 1656.2,695.7 1657.0,698.2 1657.9,700.6 1658.7,703.1 1659.5,705.5 1660.4,708.0 1661.2,710.5 1662.1,712.9 1662.9,715.4 1663.8,717.9 1664.6,720.3 1665.5,722.8 1666.3,725.3 1667.1,727.7 1668.0,730.2 1668.8,732.6 1669.7,735.1 1670.5,737.6 1671.3,740.0 1672.2,742.5 1673.0,745.0 1673.9,747.4 1674.7,749.9 1675.5,752.4 1676.4,754.8 1677.2,757.3 1678.0,759.8 1678.9,762.3 1679.7,764.7 1680.5,767.2 1681.4,769.7 1682.2,772.1 1683.0,774.6 1683.8,777.1 1684.7,779.6 1685.5,782.0 1686.3,784.5 1687.1,787.0 1688.0,789.5 1688.8,791.9 1689.6,794.4 1690.4,796.9 1691.2,799.4 1692.0,801.9 1692.8,804.3 1693.7,806.8 1694.5,809.3 1695.3,811.8 1696.1,814.3 1696.9,816.8 1697.7,819.2 1698.5,821.7 1699.3,824.2 1700.1,826.7 1700.9,829.2 1701.7,831.7 1702.5,834.1 1703.3,836.6 1704.1,839.1 1704.9,841.6 1705.7,844.1 1706.5,846.6 1707.3,849.1 1708.1,851.6 1708.9,854.1 1709.6,856.6 1710.4,859.0 1711.2,861.5 1712.0,864.0 1712.8,866.5 1713.6,869.0 1714.3,871.5 1715.1,874.0 1715.9,876.5 1716.7,879.0 1717.4,881.5 1718.2,884.0 1719.0,886.5 1719.7,889.0 1720.5,891.5 1721.3,894.0 1722.0,896.5 1722.8,899.0 1723.6,901.5 1724.3,904.0 1725.1,906.5 1725.8,909.0 1726.6,911.5 1727.4,914.0 1728.1,916.5 1728.9,919.0 1729.6,921.5 1730.4,924.0 1731.1,926.5 1731.8,929.0 1732.6,931.5 1733.3,934.0 1734.1,936.5 1734.8,939.0 1735.5,941.5 1736.3,944.0 1737.0,946.5 1737.7,949.0 1738.5,951.5 1739.2,954.0 1739.9,956.5 1740.7,959.0 1741.4,961.5 1742.1,964.0 1742.8,966.5 1743.5,969.0 1744.3,971.5 1745.0,974.0 1745.7,976.5 1746.4,979.0 1747.1,981.5 1747.8,984.1 1748.5,986.6 1749.2,989.1 1749.9,991.6 1750.6,994.1 1751.3,996.6 1752.0,999.1 1752.7,1001.6 1753.4,1004.1 1754.1,1006.6 1754.8,1009.1 1755.5,1011.6 1756.2,1014.1 1756.9,1016.6 1757.5,1019.1 1758.2,1021.6 1758.9,1024.1 1759.6,1026.7 1760.2,1029.2 1760.9,1031.7 1761.6,1034.2 1762.3,1036.7 1762.9,1039.2 1763.6,1041.7 1764.3,1044.2 1764.9,1046.7 1765.6,1049.2 1766.3,1051.7 1766.9,1054.2 1767.6,1056.7 1768.2,1059.2 1768.9,1061.8 1769.6,1064.3 1770.2,1066.8 1770.9,1069.3 1771.5,1071.8 1772.2,1074.3 1772.9,1076.8 1773.5,1079.4 1774.2,1081.9 1774.9,1084.4 1775.5,1086.9 1776.2,1089.5 1776.9,1092.0 1777.5,1094.5 1778.2,1097.1 1778.9,1099.6 1779.6,1102.1 1780.3,1104.7 1780.9,1107.2 1781.6,1109.8 1782.3,1112.3 1783.0,1114.9 1783.7,1117.4 1784.4,1120.0 1785.2,1122.5 1785.9,1125.1 1786.6,1127.6 1787.4,1130.2 1788.2,1132.7 1789.0,1135.2 1789.8,1137.7 1790.7,1140.2 1791.6,1142.7 1792.5,1145.1 1793.5,1147.6 1794.5,1150.0 1795.5,1152.4 1796.6,1154.7 1797.7,1157.1 1798.9,1159.4 1800.1,1161.7 1801.4,1164.0 1802.7,1166.2 1804.1,1168.4 1805.5,1170.6 1807.0,1172.7 1808.5,1174.8 1810.1,1176.8 1811.8,1178.8 1813.6,1180.8 1815.4,1182.7 1817.3,1184.6 1819.3,1186.4 1821.3,1188.2 1823.4,1189.8 1825.6,1191.4 1827.8,1192.9 1830.0,1194.3 1832.3,1195.5 1834.7,1196.6 1837.0,1197.6 1839.4,1198.3 1841.8,1198.9 1844.3,1199.3 1846.7,1199.5 1849.1,1199.5 1851.6,1199.2 1854.0,1198.7 1856.4,1198.0 1858.7,1197.1 1861.0,1196.1 1863.3,1194.9 1865.5,1193.6 1867.6,1192.2 1869.6,1190.7 1871.5,1189.1 1873.4,1187.5 1875.2,1185.8 1876.9,1183.9 1878.5,1182.1 1880.1,1180.2 1881.6,1178.2 1883.1,1176.1 1884.5,1174.0 1885.9,1171.9 1887.3,1169.7 1888.6,1167.5 1890.0,1165.3 1891.2,1163.0 1892.5,1160.7 1893.8,1158.4 1895.1,1156.1 1896.3,1153.8 1897.6,1151.4 1898.9,1149.1 1900.2,1146.8 1901.5,1144.4 1902.8,1142.1 1904.2,1139.8 1905.6,1137.6 1907.0,1135.3 1908.5,1133.1 1910.0,1130.8 1911.5,1128.6 1913.0,1126.5 1914.6,1124.3 1916.2,1122.2 1917.9,1120.1 1919.6,1118.1 1921.3,1116.0 1923.0,1114.0 1924.7,1112.1 1926.5,1110.1 1928.3,1108.3 1930.2,1106.4 1932.1,1104.6 1934.0,1102.8 1935.9,1101.1 1937.9,1099.4 1939.8,1097.7 1941.9,1096.1 1943.9,1094.5 1946.0,1093.0 1948.1,1091.6 1950.2,1090.1 1952.4,1088.8 1954.6,1087.5 1956.8,1086.2 1959.0,1085.0 1961.3,1083.8 1963.6,1082.8 1965.9,1081.7 1968.3,1080.7 1970.6,1079.9 1973.0,1079.0 1975.4,1078.3 1977.9,1077.7 1980.3,1077.1 1982.8,1076.7 1985.3,1076.4 1987.8,1076.2 1990.3,1076.1 1992.8,1076.2 1995.4,1076.4 1997.9,1076.7 2000.4,1077.3 2003.0,1078.0 2005.5,1078.8 2008.1,1079.8 2010.6,1081.1 2012.3,1082.0" stroke="#FA5208"/>
<path d="M339.7,1211.4 341.4,1209.0 343.1,1206.5 344.8,1204.0 346.4,1201.5 348.0,1199.0 349.0,1197.3 350.0,1195.5 351.0,1193.8 352.0,1192.1 353.0,1190.3 354.0,1188.5 355.0,1186.8 355.9,1185.0 356.9,1183.2 357.8,1181.4 358.7,1179.6 359.6,1177.8 360.5,1175.9 361.4,1174.1 362.3,1172.3 363.1,1170.4 364.0,1168.6 364.8,1166.7 365.7,1164.8 366.5,1163.0 367.3,1161.1 368.1,1159.2 368.9,1157.3 369.7,1155.4 370.5,1153.6 371.2,1151.7 372.0,1149.8 372.7,1147.9 373.5,1145.9 374.2,1144.0 374.9,1142.1 375.7,1140.2 376.4,1138.3 377.1,1136.4 377.8,1134.5 378.5,1132.5 379.2,1130.6 379.9,1128.7 380.5,1126.8 381.2,1124.8 381.9,1122.9 382.5,1121.0 383.2,1119.0 383.8,1117.1 384.4,1115.2 385.1,1113.2 385.7,1111.3 386.3,1109.3 386.9,1107.4 387.5,1105.4 388.1,1103.5 388.7,1101.5 389.3,1099.6 389.9,1097.6 390.5,1095.7 391.1,1093.7 391.7,1091.8 392.2,1089.8 392.8,1087.9 393.4,1085.9 393.9,1083.9 394.5,1082.0 395.0,1080.0 395.6,1078.0 396.1,1076.1 396.6,1074.1 397.2,1072.1 397.7,1070.2 398.2,1068.2 398.8,1066.2 399.3,1064.3 399.8,1062.3 400.3,1060.3 400.9,1058.3 401.4,1056.4 401.9,1054.4 402.4,1052.4 402.9,1050.4 403.4,1048.5 403.9,1046.5 404.4,1044.5 404.9,1042.5 405.4,1040.6 405.9,1038.6 406.4,1036.6 406.9,1034.6 407.4,1032.6 407.9,1030.7 408.4,1028.7 408.9,1026.7 409.3,1024.7 409.8,1022.7 410.3,1020.8 410.8,1018.8 411.3,1016.8 411.8,1014.8 412.3,1012.8 412.8,1010.9 413.3,1008.9 413.8,1006.9 414.2,1004.9 414.7,1002.9 415.2,1001.0 415.7,999.0 416.2,997.0 416.7,995.0 417.2,993.0 417.7,991.1 418.2,989.1 418.7,987.1 419.2,985.1 419.7,983.2 420.2,981.2 420.7,979.2 421.2,977.2 421.6,975.2 422.1,973.3 422.6,971.3 423.1,969.3 423.6,967.3 424.1,965.4 424.6,963.4 425.1,961.4 425.6,959.4 426.1,957.5 426.6,955.5 427.1,953.5 427.6,951.5 428.1,949.6 428.6,947.6 429.1,945.6 429.6,943.6 430.1,941.7 430.6,939.7 431.1,937.7 431.6,935.7 432.1,933.8 432.6,931.8 433.1,929.8 433.6,927.8 434.1,925.9 434.6,923.9 435.1,921.9 435.6,920.0 436.2,918.0 436.7,916.0 437.2,914.0 437.7,912.1 438.2,910.1 438.7,908.1 439.2,906.1 439.7,904.2 440.2,902.2 440.7,900.2 441.2,898.3 441.7,896.3 442.2,894.3 442.7,892.3 443.2,890.4 443.7,888.4 444.3,886.4 444.8,884.4 445.3,882.5 445.8,880.5 446.3,878.5 446.8,876.6 447.3,874.6 447.8,872.6 448.3,870.6 448.9,868.7 449.4,866.7 449.9,864.7 450.4,862.8 450.9,860.8 451.4,858.8 451.9,856.8 452.4,854.9 452.9,852.9 453.5,850.9 454.0,849.0 454.5,847.0 455.0,845.0 455.5,843.1 456.0,841.1 456.6,839.1 457.1,837.1 457.6,835.2 458.1,833.2 458.6,831.2 459.1,829.3 459.6,827.3 460.2,825.3 460.7,823.4 461.2,821.4 461.7,819.4 462.2,817.4 462.8,815.5 463.3,813.5 463.8,811.5 464.3,809.6 464.8,807.6 465.3,805.6 465.9,803.7 466.4,801.7 466.9,799.7 467.4,797.7 467.9,795.8 468.5,793.8 469.0,791.8 469.5,789.9 470.0,787.9 470.6,785.9 471.1,784.0 471.6,782.0 472.1,780.0 472.6,778.0 473.2,776.1 473.7,774.1 474.2,772.1 474.7,770.2 475.3,768.2 475.8,766.2 476.3,764.3 476.8,762.3 477.4,760.3 477.9,758.3 478.4,756.4 478.9,754.4 479.5,752.4 480.0,750.5 480.5,748.5 481.0,746.5 481.6,744.6 482.1,742.6 482.6,740.6 483.1,738.6 483.7,736.7 484.2,734.7 484.7,732.7 485.3,730.8 485.8,728.8 486.3,726.8 486.8,724.8 487.4,722.9 487.9,720.9 488.4,718.9 489.0,717.0 489.5,715.0 490.0,713.0 490.6,711.1 491.1,709.1 491.6,707.1 492.1,705.1 492.7,703.2 493.2,701.2 493.7,699.2 494.3,697.3 494.8,695.3 495.3,693.3 495.9,691.3 496.4,689.4 496.9,687.4 497.5,685.4 498.0,683.5 498.5,681.5 499.1,679.5 499.6,677.5 500.1,675.6 500.7,673.6 501.2,671.6 501.7,669.6 502.3,667.7 502.8,665.7 503.3,663.7 503.9,661.8 504.4,659.8 504.9,657.8 505.5,655.8 506.0,653.9 506.5,651.9 507.1,649.9 507.6,648.0 508.1,646.0 508.7,644.0 509.2,642.0 509.8,640.1 510.3,638.1 510.8,636.1 511.4,634.1 511.9,632.2 512.4,630.2 513.0,628.2 513.5,626.3 514.0,624.3 514.6,622.3 515.1,620.3 515.7,618.4 516.2,616.4 516.7,614.4 517.3,612.4 517.8,610.5 518.3,608.5 518.9,606.5 519.4,604.6 519.9,602.6 520.5,600.6 521.0,598.6 521.6,596.7 522.1,594.7 522.6,592.7 523.2,590.7 523.7,588.8 524.2,586.8 524.8,584.8 525.3,582.9 525.8,580.9 526.4,578.9 526.9,576.9 527.5,575.0 528.0,573.0 528.5,571.0 529.1,569.1 529.6,567.1 530.1,565.1 530.7,563.1 531.2,561.2 531.7,559.2 532.3,557.2 532.8,555.3 533.3,553.3 533.9,551.3 534.4,549.3 535.0,547.4 535.5,545.4 536.0,543.4 536.6,541.5 537.1,539.5 537.6,537.5 538.2,535.5 538.7,533.6 539.2,531.6 539.8,529.6 540.3,527.7 540.8,525.7 541.4,523.7 541.9,521.8 542.4,519.8 543.0,517.8 543.5,515.8 544.0,513.9 544.6,511.9 545.1,509.9 545.6,508.0 546.2,506.0 546.7,504.0 547.2,502.1 547.8,500.1 548.3,498.1 548.8,496.1 549.3,494.2 549.9,492.2 550.4,490.2 550.9,488.3 551.5,486.3 552.0,484.3 552.5,482.4 553.1,480.4 553.6,478.4 554.1,476.5 554.6,474.5 555.2,472.5 555.7,470.6 556.2,468.6 556.8,466.6 557.3,464.7 557.8,462.7 558.3,460.7 558.9,458.8 559.4,456.8 559.9,454.8 560.4,452.9 561.0,450.9 561.5,448.9 562.0,447.0 562.5,445.0 563.1,443.0 563.6,441.1 564.1,439.1 564.6,437.1 565.2,435.2 565.7,433.2 566.2,431.3 566.7,429.3 567.2,427.3 567.8,425.4 568.3,423.4 568.8,421.4 569.3,419.5 569.9,417.5 570.4,415.5 570.9,413.6 571.4,411.6 571.9,409.7 572.4,407.7 573.0,405.7 573.5,403.8 574.0,401.8 574.5,399.9 575.0,397.9 575.5,395.9 576.1,394.0 576.6,392.0 577.1,390.1 577.6,388.1 578.1,386.1 578.6,384.2 579.1,382.2 579.7,380.3 580.2,378.3 580.7,376.3 581.2,374.4 581.7,372.4 582.2,370.5 582.8,368.5 583.3,366.5 583.8,364.6 584.3,362.6 584.8,360.7 585.3,358.7 585.9,356.8 586.4,354.8 586.9,352.9 587.4,350.9 588.0,348.9 588.5,347.0 589.0,345.0 589.5,343.1 590.1,341.1 590.6,339.2 591.1,337.2 591.7,335.3 592.2,333.3 592.7,331.3 593.3,329.4 593.8,327.4 594.4,325.5 594.9,323.5 595.5,321.6 596.0,319.6 596.6,317.7 597.1,315.7 597.7,313.8 598.2,311.8 598.8,309.9 599.4,307.9 599.9,306.0 600.5,304.0 601.1,302.1 601.7,300.1 602.2,298.2 602.8,296.2 603.4,294.3 604.0,292.3 604.6,290.4 605.2,288.4 605.8,286.5 606.4,284.5 607.0,282.6 607.6,280.6 608.2,278.7 608.9,276.7 609.5,274.8 610.1,272.8 610.7,270.9 611.4,268.9 612.0,267.0 612.7,265.0 613.3,263.1 614.0,261.2 614.6,259.2 615.3,257.3 615.9,255.3 616.6,253.4 617.3,251.4 618.0,249.5 618.7,247.5 619.4,245.6 620.1,243.7 620.8,241.7 621.5,239.8 622.2,237.8 622.9,235.9 623.6,233.9 624.4,232.0 625.1,230.1 625.8,228.1 626.6,226.2 627.3,224.2 628.1,222.3 628.8,220.3 629.6,218.4 630.4,216.5 631.2,214.5 632.0,212.6 632.8,210.6 633.6,208.7 634.4,206.8 635.2,204.9 636.0,202.9 636.9,201.0 637.7,199.1 638.6,197.2 639.4,195.3 640.3,193.4 641.2,191.5 642.1,189.6 643.0,187.7 643.9,185.9 644.8,184.0 645.8,182.2 646.7,180.3 647.7,178.5 648.6,176.7 649.6,174.9 650.6,173.1 651.6,171.3 652.6,169.5 653.7,167.7 654.7,166.0 655.8,164.3 656.9,162.5 657.9,160.8 659.1,159.1 660.2,157.5 661.3,155.8 662.5,154.2 664.2,151.7 666.0,149.3 667.8,147.0 669.7,144.7 671.6,142.4 673.5,140.2 675.5,138.0 677.6,135.9 679.6,133.9 681.7,131.8 683.9,129.9 686.1,128.0 688.4,126.1 690.7,124.4 693.0,122.6 695.4,121.0 697.8,119.4 700.3,117.8 702.9,116.3 705.4,114.9 708.0,113.5 710.7,112.2 713.4,111.0 716.1,109.8 718.9,108.6 720.8,107.9 722.6,107.2 724.5,106.5 726.4,105.8 728.4,105.2 730.3,104.6 732.3,104.0 734.2,103.4 736.2,102.8 738.2,102.3 740.2,101.8 742.2,101.3 744.2,100.8 746.2,100.3 748.2,99.9 750.3,99.5 752.3,99.1 754.4,98.7 756.5,98.4 758.5,98.0 760.6,97.7 762.7,97.4 764.8,97.1 766.9,96.8 769.0,96.5 771.1,96.3 773.2,96.1 775.3,95.9 777.5,95.7 779.6,95.5 781.7,95.3 783.8,95.2 786.0,95.0 788.1,94.9 790.2,94.8 792.4,94.7 794.5,94.6 796.6,94.6 798.7,94.5 800.9,94.5 803.0,94.4 805.1,94.4 807.2,94.4 809.3,94.4 811.5,94.4 813.6,94.4 815.7,94.5 817.8,94.5 819.9,94.6 821.9,94.6 824.0,94.7 826.1,94.8 828.2,94.9 830.2,95.0 832.3,95.1 834.3,95.2 836.4,95.3 838.4,95.4 840.4,95.6 842.4,95.7 844.4,95.9 846.4,96.0 849.4,96.2 852.4,96.5 855.3,96.7 858.3,97.0 861.3,97.2 864.2,97.5 867.1,97.8 870.1,98.0 873.0,98.3 875.9,98.5 878.8,98.8 881.8,99.0 884.7,99.2 887.6,99.4 890.6,99.6 893.5,99.8 896.4,100.0 899.4,100.2 902.4,100.3 905.3,100.4 908.3,100.5 911.3,100.6 913.3,100.6 915.3,100.6 917.4,100.7 919.4,100.6 921.4,100.6 923.5,100.6 925.5,100.6 927.6,100.5 929.7,100.4 931.7,100.4 933.8,100.3 935.9,100.2 938.0,100.1 940.1,99.9 942.2,99.8 944.3,99.7 946.4,99.5 948.5,99.4 950.6,99.2 952.7,99.1 954.8,98.9 956.9,98.7 959.0,98.6 961.1,98.4 963.3,98.2 965.4,98.0 967.5,97.9 969.6,97.7 971.7,97.5 973.7,97.3 975.8,97.1 977.9,97.0 980.0,96.8 982.1,96.6 984.1,96.5 986.2,96.3 988.2,96.2 990.3,96.0 992.3,95.9 994.3,95.8 996.3,95.6 998.3,95.5 1000.3,95.4 1002.3,95.3 1005.3,95.2 1008.3,95.1 1011.3,95.0 1014.3,95.0 1017.2,94.9 1020.2,94.9 1023.2,95.0 1026.1,95.1 1029.1,95.2 1032.1,95.3 1035.1,95.5 1038.0,95.7 1040.0,95.9 1042.0,96.1 1044.0,96.3 1046.0,96.5 1048.1,96.8 1050.1,97.1 1052.1,97.4 1054.1,97.7 1056.2,98.0 1058.2,98.4 1060.3,98.8 1062.3,99.2 1064.3,99.6 1066.4,100.1 1068.4,100.5 1070.5,101.0 1072.5,101.6 1074.5,102.1 1076.6,102.7 1078.6,103.3 1080.6,103.9 1082.6,104.6 1084.6,105.3 1086.5,106.0 1088.5,106.7 1090.4,107.5 1092.4,108.3 1094.3,109.1 1096.2,110.0 1098.1,110.8 1099.9,111.8 1101.7,112.7 1103.6,113.7 1105.4,114.6 1107.1,115.7 1108.9,116.7 1110.6,117.8 1112.2,118.9 1113.9,120.1 1115.5,121.3 1117.1,122.5 1119.5,124.3 1121.7,126.3 1123.9,128.3 1126.1,130.3 1128.2,132.4 1130.2,134.6 1132.2,136.8 1134.2,139.1 1136.0,141.4 1137.9,143.8 1139.1,145.4 1140.2,147.0 1141.4,148.7 1142.5,150.3 1143.6,152.0 1144.7,153.7 1145.8,155.4 1146.9,157.2 1147.9,158.9 1148.9,160.7 1149.9,162.4 1150.9,164.2 1151.9,166.0 1152.9,167.8 1153.8,169.6 1154.8,171.4 1155.7,173.3 1156.6,175.1 1157.5,177.0 1158.4,178.8 1159.3,180.7 1160.2,182.5 1161.0,184.4 1161.9,186.3 1162.7,188.2 1163.5,190.1 1164.4,192.0 1165.2,193.8 1166.0,195.7 1166.8,197.6 1167.6,199.5 1168.4,201.4 1169.2,203.3 1170.0,205.2 1170.7,207.1 1171.5,209.0 1172.2,210.9 1173.0,212.8 1173.7,214.7 1174.5,216.7 1175.2,218.6 1175.9,220.5 1176.6,222.4 1177.4,224.3 1178.1,226.2 1178.8,228.2 1179.5,230.1 1180.1,232.0 1180.8,233.9 1181.5,235.9 1182.2,237.8 1182.8,239.7 1183.5,241.7 1184.1,243.6 1184.8,245.5 1185.4,247.5 1186.1,249.4 1186.7,251.3 1187.3,253.3 1187.9,255.2 1188.6,257.2 1189.2,259.1 1189.8,261.1 1190.4,263.0 1191.0,265.0 1191.6,266.9 1192.1,268.9 1192.7,270.8 1193.3,272.8 1193.9,274.7 1194.4,276.7 1195.0,278.6 1195.6,280.6 1196.1,282.6 1196.7,284.5 1197.2,286.5 1197.7,288.5 1198.3,290.4 1198.8,292.4 1199.3,294.4 1199.9,296.3 1200.4,298.3 1200.9,300.3 1201.4,302.2 1201.9,304.2 1202.4,306.2 1202.9,308.2 1203.4,310.1 1203.9,312.1 1204.4,314.1 1204.9,316.1 1205.4,318.0 1205.9,320.0 1206.4,322.0 1206.8,324.0 1207.3,326.0 1207.8,327.9 1208.2,329.9 1208.7,331.9 1209.2,333.9 1209.6,335.9 1210.1,337.9 1210.5,339.9 1211.0,341.8 1211.4,343.8 1211.9,345.8 1212.3,347.8 1212.8,349.8 1213.2,351.8 1213.6,353.8 1214.1,355.8 1214.5,357.8 1214.9,359.8 1215.4,361.8 1215.8,363.8 1216.2,365.7 1216.6,367.7 1217.0,369.7 1217.5,371.7 1217.9,373.7 1218.3,375.7 1218.7,377.7 1219.1,379.7 1219.5,381.7 1220.0,383.7 1220.4,385.7 1220.8,387.7 1221.2,389.7 1221.6,391.7 1222.0,393.7 1222.4,395.7 1222.8,397.7 1223.2,399.7 1223.6,401.7 1224.0,403.7 1224.4,405.7 1224.8,407.7 1225.2,409.7 1225.6,411.7 1226.0,413.7 1226.4,415.7 1226.8,417.7 1227.2,419.7 1227.6,421.7 1228.0,423.7 1228.4,425.7 1228.8,427.7 1229.2,429.7 1229.6,431.7 1230.0,433.7 1230.4,435.7 1230.8,437.7 1231.2,439.7 1231.6,441.7 1232.0,443.7 1232.4,445.7 1232.8,447.7 1233.2,449.7 1233.6,451.7 1234.0,453.7 1234.5,455.7 1234.9,457.7 1235.3,459.7 1235.7,461.7 1236.1,463.7 1236.5,465.7 1236.9,467.7 1237.3,469.7 1237.8,471.7 1238.2,473.7 1238.6,475.7 1239.0,477.7 1239.4,479.7 1239.9,481.7 1240.3,483.7 1240.7,485.7 1241.2,487.7 1241.6,489.7 1242.0,491.7 1242.5,493.7 1242.9,495.6 1243.4,497.6 1243.8,499.6 1244.2,501.6 1244.7,503.6 1245.1,505.6 1245.6,507.6 1246.1,509.6 1246.5,511.6 1247.0,513.5 1247.4,515.5 1247.9,517.5 1248.4,519.5 1248.8,521.5 1249.3,523.5 1249.8,525.4 1250.2,527.4 1250.7,529.4 1251.2,531.4 1251.7,533.4 1252.2,535.3 1252.6,537.3 1253.1,539.3 1253.6,541.3 1254.1,543.2 1254.6,545.2 1255.1,547.2 1255.6,549.2 1256.1,551.2 1256.6,553.1 1257.1,555.1 1257.6,557.1 1258.1,559.0 1258.6,561.0 1259.1,563.0 1259.6,565.0 1260.1,566.9 1260.6,568.9 1261.2,570.9 1261.7,572.8 1262.2,574.8 1262.7,576.8 1263.2,578.8 1263.8,580.7 1264.3,582.7 1264.8,584.7 1265.3,586.6 1265.9,588.6 1266.4,590.6 1266.9,592.5 1267.5,594.5 1268.0,596.4 1268.5,598.4 1269.1,600.4 1269.6,602.3 1270.2,604.3 1270.7,606.3 1271.3,608.2 1271.8,610.2 1272.4,612.1 1272.9,614.1 1273.5,616.1 1274.0,618.0 1274.6,620.0 1275.1,621.9 1275.7,623.9 1276.3,625.9 1276.8,627.8 1277.4,629.8 1278.0,631.7 1278.5,633.7 1279.1,635.6 1279.7,637.6 1280.2,639.6 1280.8,641.5 1281.4,643.5 1282.0,645.4 1282.5,647.4 1283.1,649.3 1283.7,651.3 1284.3,653.2 1284.8,655.2 1285.4,657.1 1286.0,659.1 1286.6,661.0 1287.2,663.0 1287.8,664.9 1288.4,666.9 1289.0,668.8 1289.5,670.8 1290.1,672.7 1290.7,674.7 1291.3,676.6 1291.9,678.6 1292.5,680.5 1293.1,682.5 1293.7,684.4 1294.3,686.4 1294.9,688.3 1295.5,690.3 1296.1,692.2 1296.7,694.2 1297.4,696.1 1298.0,698.1 1298.6,700.0 1299.2,701.9 1299.8,703.9 1300.4,705.8 1301.0,707.8 1301.6,709.7 1302.3,711.7 1302.9,713.6 1303.5,715.6 1304.1,717.5 1304.7,719.4 1305.3,721.4 1306.0,723.3 1306.6,725.3 1307.2,727.2 1307.8,729.1 1308.5,731.1 1309.1,733.0 1309.7,735.0 1310.3,736.9 1311.0,738.8 1311.6,740.8 1312.2,742.7 1312.9,744.7 1313.5,746.6 1314.1,748.5 1314.8,750.5 1315.4,752.4 1316.0,754.4 1316.7,756.3 1317.3,758.2 1317.9,760.2 1318.6,762.1 1319.2,764.1 1319.9,766.0 1320.5,767.9 1321.1,769.9 1321.8,771.8 1322.4,773.7 1323.1,775.7 1323.7,777.6 1324.3,779.5 1325.0,781.5 1325.6,783.4 1326.3,785.4 1326.9,787.3 1327.6,789.2 1328.2,791.2 1328.9,793.1 1329.5,795.0 1330.1,797.0 1330.8,798.9 1331.4,800.8 1332.1,802.8 1332.7,804.7 1333.4,806.7 1334.0,808.6 1334.7,810.5 1335.3,812.5 1336.0,814.4 1336.6,816.3 1337.3,818.3 1337.9,820.2 1338.5,822.1 1339.2,824.1 1339.8,826.0 1340.5,828.0 1341.1,829.9 1341.8,831.8 1342.4,833.8 1343.1,835.7 1343.7,837.6 1344.3,839.6 1345.0,841.5 1345.6,843.4 1346.3,845.4 1346.9,847.3 1347.5,849.3 1348.2,851.2 1348.8,853.1 1349.5,855.1 1350.1,857.0 1350.7,858.9 1351.4,860.9 1352.0,862.8 1352.6,864.8 1353.3,866.7 1353.9,868.6 1354.5,870.6 1355.2,872.5 1355.8,874.5 1356.4,876.4 1357.1,878.3 1357.7,880.3 1358.3,882.2 1358.9,884.2 1359.6,886.1 1360.2,888.0 1360.8,890.0 1361.4,891.9 1362.1,893.9 1362.7,895.8 1363.3,897.7 1363.9,899.7 1364.5,901.6 1365.1,903.6 1365.8,905.5 1366.4,907.5 1367.0,909.4 1367.6,911.3 1368.2,913.3 1368.8,915.2 1369.4,917.2 1370.0,919.1 1370.6,921.1 1371.2,923.0 1371.8,925.0 1372.4,926.9 1373.0,928.9 1373.6,930.8 1374.2,932.8 1374.8,934.7 1375.4,936.7 1376.0,938.6 1376.5,940.6 1377.1,942.5 1377.7,944.5 1378.3,946.4 1378.9,948.4 1379.4,950.3 1380.0,952.3 1380.6,954.2 1381.2,956.2 1381.7,958.1 1382.3,960.1 1382.9,962.1 1383.4,964.0 1384.0,966.0 1384.5,967.9 1385.1,969.9 1385.6,971.8 1386.2,973.8 1386.7,975.8 1387.3,977.7 1387.8,979.7 1388.4,981.6 1388.9,983.6 1389.5,985.6 1390.0,987.5 1390.5,989.5 1391.1,991.5 1391.6,993.4 1392.1,995.4 1392.6,997.4 1393.1,999.3 1393.7,1001.3 1394.2,1003.3 1394.7,1005.2 1395.2,1007.2 1395.7,1009.2 1396.2,1011.1 1396.7,1013.1 1397.2,1015.1 1397.7,1017.0 1398.2,1019.0 1398.7,1021.0 1399.2,1023.0 1399.7,1024.9 1400.1,1026.9 1400.6,1028.9 1401.1,1030.9 1401.6,1032.9 1402.0,1034.8 1402.5,1036.8 1403.0,1038.8 1403.4,1040.8 1403.9,1042.8 1404.3,1044.7 1404.8,1046.7 1405.2,1048.7 1405.7,1050.7 1406.1,1052.7 1406.5,1054.7 1407.0,1056.7 1407.4,1058.6 1407.8,1060.6 1408.3,1062.6 1408.7,1064.6 1409.1,1066.6 1409.5,1068.6 1409.9,1070.6 1410.3,1072.6 1410.8,1074.6 1411.2,1076.6 1411.6,1078.6 1412.0,1080.6 1412.4,1082.6 1412.8,1084.6 1413.2,1086.6 1413.6,1088.6 1414.0,1090.6 1414.4,1092.6 1414.8,1094.6 1415.1,1096.6 1415.5,1098.6 1415.9,1100.6 1416.3,1102.6 1416.7,1104.6 1417.1,1106.6 1417.5,1108.6 1417.9,1110.6 1418.2,1112.6 1418.6,1114.6 1419.0,1116.6 1419.4,1118.6 1419.8,1120.6 1420.2,1122.6 1420.5,1124.6 1420.9,1126.6 1421.3,1128.6 1421.7,1130.6 1422.1,1132.6 1422.5,1134.6 1422.8,1136.6 1423.2,1138.6 1423.6,1140.6 1424.0,1142.7 1424.4,1144.7 1424.8,1146.7 1425.2,1148.7 1425.5,1150.7 1425.9,1152.7 1426.3,1154.7 1426.7,1156.7 1427.1,1158.7 1427.5,1160.7 1427.9,1162.7 1428.3,1164.7 1428.7,1166.7 1429.1,1168.7 1429.5,1170.7 1429.9,1172.8 1430.3,1174.8 1430.8,1176.8 1431.2,1178.8 1431.6,1180.8 1432.0,1182.8 1432.4,1184.8 1432.9,1186.8 1433.3,1188.8 1433.7,1190.8 1434.1,1192.8 1434.6,1194.8 1435.0,1196.8 1435.5,1198.8 1435.9,1200.8 1436.4,1202.8 1436.8,1204.8 1437.3,1206.8 1437.7,1208.8 1438.2,1210.8 1438.7,1212.8 1439.1,1214.8 1439.6,1216.8 1440.1,1218.8 1440.6,1220.8 1441.0,1222.8 1441.5,1224.8 1442.0,1226.8 1442.5,1228.8 1443.0,1230.8 1443.5,1232.8 1444.0,1234.8 1444.6,1236.8 1445.1,1238.8 1445.6,1240.8 1446.1,1242.8 1446.6,1244.8 1447.2,1246.8 1447.7,1248.8 1448.2,1250.7 1448.7,1252.7 1449.3,1254.7 1449.8,1256.7 1450.3,1258.7 1450.9,1260.6 1451.4,1262.6 1451.9,1264.6 1452.4,1266.5 1453.0,1268.5 1453.5,1270.5 1454.0,1272.4 1454.6,1274.4 1455.1,1276.3 1455.6,1278.3 1456.1,1280.2 1456.7,1282.2 1457.2,1284.1 1457.7,1286.1 1458.2,1288.0 1458.7,1289.9 1459.5,1292.8 1460.3,1295.7 1461.0,1298.6 1461.8,1301.5 1462.5,1304.3 1463.2,1307.2 1464.0,1310.0 1464.7,1312.9 1465.4,1315.7 1466.1,1318.5 1466.8,1321.4 1467.5,1324.2 1468.2,1327.0 1468.9,1329.8 1469.7,1332.7 1470.4,1335.6 1471.3,1338.5 1471.8,1340.4 1472.4,1342.3 1473.0,1344.3 1473.6,1346.3 1474.2,1348.3 1474.9,1350.3 1475.6,1352.3 1476.3,1354.3 1477.0,1356.4 1477.8,1358.5 1478.6,1360.6 1479.4,1362.7 1480.2,1364.9 1481.1,1367.0 1482.1,1369.2 1483.0,1371.4 1484.0,1373.6 1485.0,1375.7 1486.0,1377.8 1487.1,1379.9 1488.1,1381.9 1489.2,1383.9 1490.3,1385.7 1491.4,1387.5 1492.5,1389.2 1494.1,1391.5 1495.8,1393.6 1497.5,1395.3 1499.1,1396.6 1501.3,1397.7 1503.4,1397.8 1505.4,1396.7 1506.9,1395.3 1508.4,1393.5 1509.8,1391.3 1511.2,1388.7 1512.1,1386.9 1513.0,1385.0 1513.9,1383.1 1514.8,1381.1 1515.7,1379.1 1516.5,1377.1 1517.4,1375.0 1518.2,1373.0 1519.1,1371.0 1519.9,1369.0 1520.7,1366.9 1521.5,1364.9 1522.3,1362.9 1523.1,1360.9 1523.9,1358.9 1524.7,1356.9 1525.5,1355.0 1526.3,1353.0 1527.1,1351.1 1527.8,1349.1 1528.6,1347.2 1529.4,1345.3 1530.2,1343.4 1530.9,1341.5 1531.7,1339.6 1532.4,1337.7 1533.2,1335.8 1533.9,1333.9 1534.7,1332.0 1535.4,1330.2 1536.1,1328.3 1536.9,1326.4 1537.6,1324.6 1538.7,1321.8 1539.8,1319.0 1540.8,1316.2 1541.9,1313.4 1542.9,1310.6 1544.0,1307.8 1545.0,1305.0 1546.1,1302.2 1547.1,1299.4 1548.1,1296.6 1548.8,1294.7 1549.4,1292.8 1550.1,1290.9 1550.7,1289.0 1551.4,1287.1 1552.1,1285.2 1552.7,1283.3 1553.4,1281.3 1554.0,1279.4 1554.6,1277.4 1555.3,1275.5 1555.9,1273.5 1556.5,1271.5 1557.2,1269.6 1557.8,1267.6 1558.4,1265.6 1559.0,1263.6 1559.7,1261.6 1560.3,1259.6 1560.9,1257.7 1561.5,1255.7 1562.1,1253.7 1562.7,1251.7 1563.3,1249.7 1564.0,1247.7 1564.6,1245.7 1565.2,1243.7 1565.8,1241.7 1566.4,1239.7 1567.0,1237.7 1567.6,1235.7 1568.2,1233.7 1568.8,1231.7 1569.4,1229.7 1570.0,1227.8 1570.6,1225.8 1571.2,1223.9 1571.9,1221.9 1572.5,1220.0 1573.1,1218.0 1573.7,1216.1 1574.3,1214.2 1574.9,1212.3 1575.5,1210.4 1576.5,1207.5 1577.4,1204.7 1578.4,1201.9 1579.3,1199.1 1580.3,1196.3 1581.2,1193.5 1582.2,1190.8 1583.2,1188.0 1584.2,1185.2 1585.2,1182.4 1586.2,1179.6 1587.2,1176.8 1588.3,1174.0 1589.0,1172.2 1589.7,1170.3 1590.4,1168.4 1591.1,1166.5 1591.8,1164.6 1592.6,1162.6 1593.3,1160.7 1594.1,1158.8 1594.8,1156.8 1595.6,1154.8 1596.4,1152.8 1597.2,1150.8 1598.0,1148.8 1598.8,1146.8 1599.6,1144.8 1600.5,1142.8 1601.3,1140.8 1602.2,1138.8 1603.1,1136.8 1604.0,1134.8 1605.0,1132.9 1606.0,1131.0 1607.0,1129.1 1608.1,1127.3 1609.2,1125.5 1610.3,1123.8 1611.5,1122.1 1612.7,1120.5 1614.0,1118.9 1616.0,1116.7 1618.1,1114.6 1620.4,1112.8 1622.8,1111.1 1625.3,1109.7 1627.9,1108.5 1630.6,1107.5 1633.5,1106.8 1636.3,1106.3 1639.2,1106.1 1642.1,1106.1 1644.9,1106.4 1647.7,1106.9 1650.4,1107.7 1653.0,1108.8 1655.5,1110.2 1657.8,1111.9 1660.0,1113.9 1662.0,1116.1 1663.2,1117.7 1664.4,1119.3 1665.6,1121.1 1666.7,1122.9 1667.7,1124.7 1668.8,1126.6 1669.8,1128.5 1670.8,1130.4 1671.8,1132.3 1672.7,1134.2 1673.7,1136.1 1674.6,1138.0 1675.6,1139.9 1676.5,1141.8 1677.4,1143.7 1678.3,1145.6 1679.2,1147.5 1680.1,1149.4 1681.0,1151.3 1681.8,1153.2 1682.7,1155.1 1683.5,1156.9 1684.4,1158.8 1685.2,1160.7 1686.0,1162.6 1686.8,1164.5 1687.6,1166.4 1688.4,1168.3 1689.2,1170.1 1690.0,1172.0 1690.8,1173.9 1691.5,1175.8 1692.3,1177.7 1693.1,1179.6 1693.8,1181.4 1694.6,1183.3 1695.3,1185.2 1696.0,1187.1 1696.8,1189.0 1697.5,1190.8 1698.2,1192.7 1698.9,1194.6 1699.7,1196.5 1700.4,1198.4 1701.1,1200.2 1701.8,1202.1 1702.5,1204.0 1703.2,1205.9 1703.9,1207.8 1704.6,1209.7 1705.3,1211.5 1706.0,1213.4 1706.7,1215.3 1707.3,1217.2 1708.0,1219.1 1708.7,1221.0 1709.4,1222.8 1710.1,1224.7 1710.8,1226.6 1711.5,1228.5 1712.2,1230.4 1712.9,1232.3 1713.6,1234.2 1714.3,1236.1 1715.0,1238.0 1715.7,1239.9 1716.4,1241.8 1717.1,1243.7 1717.8,1245.6 1718.5,1247.5 1719.2,1249.4 1719.9,1251.3 1720.7,1253.2 1721.4,1255.1 1722.1,1257.0 1722.9,1259.0 1723.6,1260.9 1724.4,1262.8 1725.1,1264.7 1725.9,1266.6 1726.6,1268.6 1727.4,1270.5 1728.2,1272.4 1729.0,1274.3 1729.8,1276.3 1730.6,1278.2 1731.4,1280.2 1732.2,1282.1 1733.0,1284.0 1733.8,1286.0 1734.7,1287.9 1735.6,1289.9 1736.4,1291.8 1737.3,1293.7 1738.3,1295.6 1739.2,1297.5 1740.2,1299.3 1741.2,1301.1 1742.2,1302.9 1743.3,1304.7 1744.4,1306.4 1745.5,1308.1 1746.7,1309.8 1747.9,1311.4 1749.2,1312.9 1751.2,1315.1 1753.3,1317.2 1755.5,1319.2 1757.9,1321.0 1760.4,1322.6 1762.1,1323.6 1763.9,1324.5 1765.8,1325.3 1767.7,1326.1 1769.6,1326.7 1771.6,1327.2 1773.6,1327.6 1776.5,1327.9 1779.5,1327.9 1782.4,1327.6 1785.2,1326.9 1787.8,1325.8 1790.4,1324.3 1792.7,1322.5 1794.2,1321.1 1795.7,1319.6 1797.1,1318.1 1798.5,1316.5 1799.8,1314.9 1801.1,1313.2 1802.3,1311.6 1803.5,1309.9 1804.7,1308.2 1805.9,1306.5 1807.0,1304.8 1808.1,1303.1 1809.2,1301.3 1810.2,1299.5 1811.2,1297.8 1812.2,1296.0 1813.1,1294.1 1814.1,1292.3 1814.9,1290.5 1815.8,1288.6 1816.7,1286.8 1817.5,1284.9 1818.3,1283.0 1819.1,1281.1 1819.8,1279.2 1820.6,1277.3 1821.3,1275.4 1822.0,1273.4 1822.7,1271.5 1823.4,1269.6 1824.0,1267.6 1824.7,1265.6 1825.3,1263.7 1825.9,1261.7 1826.5,1259.7 1827.1,1257.8 1827.7,1255.8 1828.2,1253.8 1828.8,1251.8 1829.4,1249.8 1829.9,1247.8 1830.4,1245.9 1831.0,1243.9 1831.5,1241.9 1832.0,1239.9 1832.5,1237.9 1833.1,1235.9 1833.6,1233.9 1834.1,1231.9 1834.6,1230.0 1835.1,1228.0 1835.6,1226.0 1836.2,1224.1 1836.7,1222.1 1837.2,1220.1 1837.7,1218.2 1838.3,1216.3 1838.8,1214.3 1839.3,1212.4 1839.9,1210.5 1840.5,1208.5 1841.3,1205.7 1842.2,1202.8 1843.0,1199.9 1843.9,1197.1 1844.8,1194.2 1845.4,1192.3 1846.0,1190.4 1846.7,1188.5 1847.3,1186.6 1847.9,1184.7 1848.6,1182.8 1849.2,1180.8 1849.9,1178.9 1850.6,1177.0 1851.2,1175.1 1851.9,1173.1 1852.6,1171.2 1853.3,1169.2 1854.0,1167.3 1854.8,1165.3 1855.5,1163.4 1856.2,1161.4 1857.0,1159.4 1857.8,1157.5 1858.5,1155.5 1859.3,1153.5 1860.2,1151.6 1861.0,1149.6 1861.9,1147.7 1862.7,1145.8 1863.7,1143.9 1864.6,1142.0 1865.6,1140.2 1866.6,1138.3 1867.6,1136.6 1868.7,1134.8 1869.8,1133.1 1871.0,1131.5 1872.2,1129.9 1874.1,1127.5 1876.0,1125.4 1878.1,1123.3 1880.4,1121.4 1882.7,1119.6 1885.2,1118.0 1887.8,1116.6 1889.6,1115.7 1891.5,1115.0 1893.4,1114.3 1895.4,1113.7 1897.4,1113.3 1899.5,1112.9 1901.5,1112.7 1903.6,1112.5 1905.6,1112.5 1907.7,1112.7 1909.6,1112.9 1912.5,1113.6 1915.3,1114.6 1917.9,1116.0 1920.3,1117.7 1921.8,1119.0 1923.3,1120.5 1924.6,1122.0 1925.9,1123.6 1927.2,1125.3 1928.4,1127.0 1929.6,1128.7 1930.7,1130.4 1931.9,1132.1 1933.0,1133.9 1934.0,1135.7 1935.1,1137.4 1936.1,1139.2 1937.1,1141.0 1938.1,1142.8 1939.0,1144.7 1939.9,1146.5 1940.9,1148.3 1941.8,1150.2 1942.6,1152.0 1943.5,1153.9 1944.4,1155.8 1945.2,1157.6 1946.0,1159.5 1946.9,1161.4 1947.7,1163.2 1948.5,1165.1 1949.3,1167.0 1950.1,1168.9 1950.9,1170.8 1951.6,1172.7 1952.4,1174.5 1953.2,1176.4 1954.0,1178.3 1954.7,1180.2 1955.5,1182.1 1956.2,1184.0 1957.0,1185.9 1957.7,1187.8 1958.5,1189.7 1959.2,1191.6 1959.9,1193.5 1960.6,1195.4 1961.3,1197.3 1962.1,1199.2 1962.8,1201.1 1963.5,1203.0 1964.2,1205.0 1964.9,1206.9 1965.6,1208.8 1966.3,1210.7 1967.0,1212.6 1967.6,1214.5 1968.3,1216.4 1969.0,1218.4 1969.7,1220.3 1970.4,1222.2 1971.0,1224.1 1971.7,1226.0 1972.4,1227.9 1973.0,1229.9 1973.7,1231.8 1974.4,1233.7 1975.0,1235.6 1975.7,1237.5 1976.4,1239.5 1977.0,1241.4 1977.7,1243.3 1978.4,1245.2 1979.0,1247.2 1979.7,1249.1 1980.3,1251.0 1981.0,1252.9 1981.7,1254.8 1982.3,1256.8 1983.0,1258.7 1983.7,1260.6 1984.3,1262.5 1985.0,1264.5 1985.7,1266.4 1986.3,1268.3 1987.0,1270.2 1987.7,1272.1 1988.3,1274.0 1989.0,1276.0 1989.7,1277.9 1990.4,1279.8 1991.1,1281.7 1991.7,1283.6 1992.4,1285.5 1993.1,1287.5 1993.8,1289.4 1994.5,1291.3 1995.2,1293.2 1995.9,1295.1 1996.6,1297.0 1997.3,1298.9 1998.0,1300.8 1998.8,1302.7 1999.5,1304.6 2000.2,1306.5 2001.0,1308.4 2001.7,1310.3 2002.4,1312.2 2003.2,1314.1 2003.9,1316.0 2004.7,1317.9 2005.5,1319.8 2006.2,1321.7 2007.0,1323.6 2007.8,1325.5 2008.6,1327.3 2009.4,1329.2 2010.2,1331.1 2011.0,1333.0 2011.8,1334.9 2012.6,1336.7" stroke="#FFB200"/>
</g>
<text transform="translate(339.6,1508) scale(1,1.02)" font-size="106" fill="#232323" text-anchor="middle">1100</text>
<text transform="translate(618.4,1508) scale(1,1.02)" font-size="106" fill="#232323" text-anchor="middle">1200</text>
<text transform="translate(897.3,1508) scale(1,1.02)" font-size="106" fill="#232323" text-anchor="middle">1300</text>
<text transform="translate(1176.1,1508) scale(1,1.02)" font-size="106" fill="#232323" text-anchor="middle">1400</text>
<text transform="translate(1454.9,1508) scale(1,1.02)" font-size="106" fill="#232323" text-anchor="middle">1500</text>
<text transform="translate(1733.8,1508) scale(1,1.02)" font-size="106" fill="#232323" text-anchor="middle">1600</text>
<text transform="translate(2012.6,1508) scale(1,1.02)" font-size="106" fill="#232323" text-anchor="middle">1700</text>
<text transform="translate(309,1418.7) scale(1,1.025)" font-size="106" fill="#232323" text-anchor="end">0</text>
<text transform="translate(309,1158.1) scale(1,1.025)" font-size="106" fill="#232323" text-anchor="end">20</text>
<text transform="translate(309,897.6) scale(1,1.025)" font-size="106" fill="#232323" text-anchor="end">40</text>
<text transform="translate(309,637.0) scale(1,1.025)" font-size="106" fill="#232323" text-anchor="end">60</text>
<text transform="translate(309,376.5) scale(1,1.025)" font-size="106" fill="#232323" text-anchor="end">80</text>
<text transform="translate(309,115.9) scale(1,1.025)" font-size="106" fill="#232323" text-anchor="end">100</text>
<text x="1175.1" y="1635.5" font-size="115.2" fill="#232323" text-anchor="middle">Wavelength (nm)</text>
<text transform="translate(115.6,729.3) rotate(-90)" x="0" y="0" font-size="114" fill="#232323" text-anchor="middle">Conversion efficiency (%)</text>
<rect x="686" y="1087" width="688" height="245" fill="#fff" stroke="#222" stroke-width="4"/>
<rect x="700" y="1128.0" width="142" height="10" fill="#0072BF"/>
<text x="852" y="1155.0" font-size="65.5" fill="#000">Diameter=125 µm</text>
<rect x="700" y="1205.5" width="142" height="10" fill="#FA5208"/>
<text x="852" y="1232.5" font-size="65.5" fill="#000">Diameter=121 µm</text>
<rect x="700" y="1283.0" width="142" height="10" fill="#FFB200"/>
<text x="852" y="1310.0" font-size="65.5" fill="#000">Diameter=113 µm</text>
</svg></body></html>
